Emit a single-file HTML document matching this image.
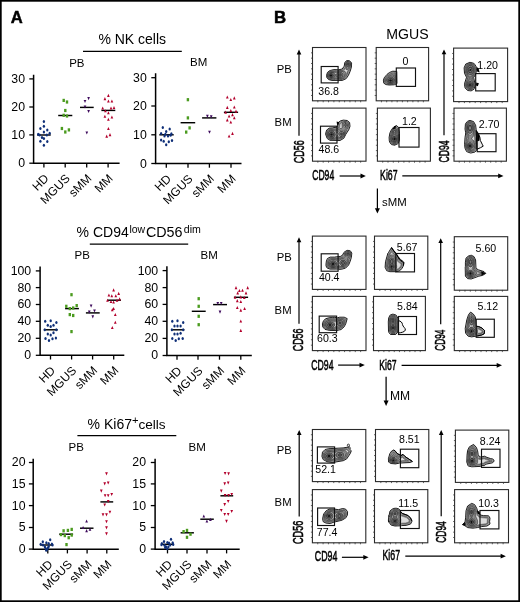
<!DOCTYPE html>
<html><head><meta charset="utf-8"><style>
html,body{margin:0;padding:0;background:#fff;width:520px;height:602px;overflow:hidden}
svg{display:block;will-change:transform}
text{font-family:"Liberation Sans", sans-serif}
</style></head><body>
<svg width="520" height="602" viewBox="0 0 520 602" font-family='"Liberation Sans", sans-serif'>
<rect x="0" y="0" width="520" height="602" fill="#fff"/>
<rect x="0.85" y="0.85" width="518.3" height="600.3" fill="none" stroke="#000" stroke-width="1.7"/>
<text x="10.7" y="23" font-size="16.6" text-anchor="start" font-weight="bold" fill="#000" stroke="#000" stroke-width="0.45">A</text>
<text x="274" y="22.5" font-size="16.8" text-anchor="start" font-weight="bold" fill="#000" stroke="#000" stroke-width="0.5">B</text>
<text x="98.4" y="43.7" font-size="14" text-anchor="start" font-weight="normal" fill="#000" >% NK cells</text>
<line x1="83" y1="51.4" x2="181.8" y2="51.4" stroke="#000" stroke-width="1.2" />
<text x="76.6" y="236.8" font-size="14" text-anchor="start" font-weight="normal" fill="#000" >% CD94<tspan font-size="10.5" dx="0.7" dy="-4.0">low</tspan><tspan dx="0.7" dy="4.0" font-size="14.3">CD56</tspan><tspan font-size="10.6" dx="1.4" dy="-4.0">dim</tspan></text>
<line x1="89.8" y1="244.1" x2="188.2" y2="244.1" stroke="#000" stroke-width="1.2" />
<text x="87.6" y="428.7" font-size="14" text-anchor="start" font-weight="normal" fill="#000" >% Ki67<tspan font-size="11.2" dx="0" dy="-4.6">+</tspan><tspan dx="-0.1" dy="4.6" font-size="13.6">cells</tspan></text>
<line x1="77.4" y1="435.7" x2="176.3" y2="435.7" stroke="#000" stroke-width="1.2" />
<text x="69.2" y="67.4" font-size="11.5" text-anchor="start" font-weight="normal" fill="#000" >PB</text>
<text x="190" y="66.2" font-size="11.5" text-anchor="start" font-weight="normal" fill="#000" >BM</text>
<text x="74.6" y="259.2" font-size="11.5" text-anchor="start" font-weight="normal" fill="#000" >PB</text>
<text x="200.6" y="258.6" font-size="11.5" text-anchor="start" font-weight="normal" fill="#000" >BM</text>
<text x="68.6" y="451.3" font-size="11.5" text-anchor="start" font-weight="normal" fill="#000" >PB</text>
<text x="188.6" y="451.3" font-size="11.5" text-anchor="start" font-weight="normal" fill="#000" >BM</text>
<path d="M33.6 74.8V163.2H119.6" fill="none" stroke="#000" stroke-width="1.5"/>
<line x1="29.3" y1="163.2" x2="33.6" y2="163.2" stroke="#000" stroke-width="1.3" />
<text x="25" y="167.1" font-size="12.3" text-anchor="end" font-weight="normal" fill="#000" >0</text>
<line x1="29.3" y1="134.9" x2="33.6" y2="134.9" stroke="#000" stroke-width="1.3" />
<text x="25" y="138.8" font-size="12.3" text-anchor="end" font-weight="normal" fill="#000" >10</text>
<line x1="29.3" y1="107" x2="33.6" y2="107" stroke="#000" stroke-width="1.3" />
<text x="25" y="110.9" font-size="12.3" text-anchor="end" font-weight="normal" fill="#000" >20</text>
<line x1="29.3" y1="78.9" x2="33.6" y2="78.9" stroke="#000" stroke-width="1.3" />
<text x="25" y="82.8" font-size="12.3" text-anchor="end" font-weight="normal" fill="#000" >30</text>
<line x1="43.9" y1="163.2" x2="43.9" y2="167.4" stroke="#000" stroke-width="1.3" />
<line x1="65.2" y1="163.2" x2="65.2" y2="167.4" stroke="#000" stroke-width="1.3" />
<line x1="86.7" y1="163.2" x2="86.7" y2="167.4" stroke="#000" stroke-width="1.3" />
<line x1="108.1" y1="163.2" x2="108.1" y2="167.4" stroke="#000" stroke-width="1.3" />
<text transform="translate(49.4,179.2) rotate(-45)" font-size="12" text-anchor="end">HD</text>
<text transform="translate(70.7,179.2) rotate(-45)" font-size="12" text-anchor="end">MGUS</text>
<text transform="translate(92.2,179.2) rotate(-45)" font-size="12" text-anchor="end">sMM</text>
<text transform="translate(113.6,179.2) rotate(-45)" font-size="12" text-anchor="end">MM</text>
<line x1="37.2" y1="135" x2="50.7" y2="135" stroke="#000" stroke-width="1.45" />
<line x1="58.2" y1="115.5" x2="72.3" y2="115.5" stroke="#000" stroke-width="1.45" />
<line x1="80" y1="107.4" x2="93.7" y2="107.4" stroke="#000" stroke-width="1.45" />
<line x1="101.4" y1="110.4" x2="115.3" y2="110.4" stroke="#000" stroke-width="1.45" />
<ellipse cx="43.9" cy="121.5" rx="1.15" ry="1.5" fill="#0f2f78"/>
<ellipse cx="43.9" cy="126.3" rx="1.15" ry="1.5" fill="#0f2f78"/>
<ellipse cx="40.4" cy="128.5" rx="1.15" ry="1.5" fill="#0f2f78"/>
<ellipse cx="47.3" cy="129.9" rx="1.15" ry="1.5" fill="#0f2f78"/>
<ellipse cx="43.9" cy="132.1" rx="1.15" ry="1.5" fill="#0f2f78"/>
<ellipse cx="38.2" cy="134.2" rx="1.15" ry="1.5" fill="#0f2f78"/>
<ellipse cx="49.7" cy="133.3" rx="1.15" ry="1.5" fill="#0f2f78"/>
<ellipse cx="39.6" cy="135" rx="1.15" ry="1.5" fill="#0f2f78"/>
<ellipse cx="46.8" cy="135" rx="1.15" ry="1.5" fill="#0f2f78"/>
<ellipse cx="42" cy="137.6" rx="1.15" ry="1.5" fill="#0f2f78"/>
<ellipse cx="43.9" cy="138.6" rx="1.15" ry="1.5" fill="#0f2f78"/>
<ellipse cx="40.4" cy="141.2" rx="1.15" ry="1.5" fill="#0f2f78"/>
<ellipse cx="47.3" cy="141.4" rx="1.15" ry="1.5" fill="#0f2f78"/>
<ellipse cx="43.9" cy="145.3" rx="1.15" ry="1.5" fill="#0f2f78"/>
<rect x="62.5" y="98.8" width="2.4" height="3.2" fill="#4b9b1f"/>
<rect x="65.8" y="100.4" width="2.4" height="3.2" fill="#4b9b1f"/>
<rect x="64.1" y="108.9" width="2.4" height="3.2" fill="#4b9b1f"/>
<rect x="62.5" y="113.7" width="2.4" height="3.2" fill="#4b9b1f"/>
<rect x="65.8" y="114.4" width="2.4" height="3.2" fill="#4b9b1f"/>
<rect x="60.7" y="126.9" width="2.4" height="3.2" fill="#4b9b1f"/>
<rect x="64.1" y="130.4" width="2.4" height="3.2" fill="#4b9b1f"/>
<rect x="67.7" y="128.3" width="2.4" height="3.2" fill="#4b9b1f"/>
<path d="M88.6 100.2L89.95 97.1L87.25 97.1Z" fill="#3e0b5c"/>
<path d="M85 103L86.35 99.9L83.65 99.9Z" fill="#3e0b5c"/>
<path d="M85 108.6L86.35 105.5L83.65 105.5Z" fill="#3e0b5c"/>
<path d="M88.6 113.1L89.95 110L87.25 110Z" fill="#3e0b5c"/>
<path d="M86.8 134.5L88.15 131.4L85.45 131.4Z" fill="#3e0b5c"/>
<path d="M108.4 93.8L109.75 96.9L107.05 96.9Z" fill="#b3002c"/>
<path d="M104.9 97.1L106.25 100.2L103.55 100.2Z" fill="#b3002c"/>
<path d="M108.4 99.5L109.75 102.6L107.05 102.6Z" fill="#b3002c"/>
<path d="M111.9 99.5L113.25 102.6L110.55 102.6Z" fill="#b3002c"/>
<path d="M102.7 106.5L104.05 109.6L101.35 109.6Z" fill="#b3002c"/>
<path d="M111 106.5L112.35 109.6L109.65 109.6Z" fill="#b3002c"/>
<path d="M114 106L115.35 109.1L112.65 109.1Z" fill="#b3002c"/>
<path d="M105.4 109.2L106.75 112.3L104.05 112.3Z" fill="#b3002c"/>
<path d="M108.4 111.2L109.75 114.3L107.05 114.3Z" fill="#b3002c"/>
<path d="M104.9 114.7L106.25 117.8L103.55 117.8Z" fill="#b3002c"/>
<path d="M111.9 115.4L113.25 118.5L110.55 118.5Z" fill="#b3002c"/>
<path d="M108.4 117.7L109.75 120.8L107.05 120.8Z" fill="#b3002c"/>
<path d="M108.4 126.9L109.75 130L107.05 130Z" fill="#b3002c"/>
<path d="M110 133.1L111.35 136.2L108.65 136.2Z" fill="#b3002c"/>
<path d="M106.7 134.6L108.05 137.7L105.35 137.7Z" fill="#b3002c"/>
<path d="M155.6 73.3V163.5H241.5" fill="none" stroke="#000" stroke-width="1.5"/>
<line x1="151.3" y1="163.5" x2="155.6" y2="163.5" stroke="#000" stroke-width="1.3" />
<text x="146.8" y="167.9" font-size="12.3" text-anchor="end" font-weight="normal" fill="#000" >0</text>
<line x1="151.3" y1="134.8" x2="155.6" y2="134.8" stroke="#000" stroke-width="1.3" />
<text x="146.8" y="139.2" font-size="12.3" text-anchor="end" font-weight="normal" fill="#000" >10</text>
<line x1="151.3" y1="106" x2="155.6" y2="106" stroke="#000" stroke-width="1.3" />
<text x="146.8" y="110.4" font-size="12.3" text-anchor="end" font-weight="normal" fill="#000" >20</text>
<line x1="151.3" y1="77.7" x2="155.6" y2="77.7" stroke="#000" stroke-width="1.3" />
<text x="146.8" y="82.1" font-size="12.3" text-anchor="end" font-weight="normal" fill="#000" >30</text>
<line x1="166.3" y1="163.5" x2="166.3" y2="167.7" stroke="#000" stroke-width="1.3" />
<line x1="188" y1="163.5" x2="188" y2="167.7" stroke="#000" stroke-width="1.3" />
<line x1="209.4" y1="163.5" x2="209.4" y2="167.7" stroke="#000" stroke-width="1.3" />
<line x1="231" y1="163.5" x2="231" y2="167.7" stroke="#000" stroke-width="1.3" />
<text transform="translate(171.8,179.5) rotate(-45)" font-size="12" text-anchor="end">HD</text>
<text transform="translate(193.5,179.5) rotate(-45)" font-size="12" text-anchor="end">MGUS</text>
<text transform="translate(214.9,179.5) rotate(-45)" font-size="12" text-anchor="end">sMM</text>
<text transform="translate(236.5,179.5) rotate(-45)" font-size="12" text-anchor="end">MM</text>
<line x1="159.3" y1="134.8" x2="173.7" y2="134.8" stroke="#000" stroke-width="1.45" />
<line x1="180.6" y1="122.7" x2="195.2" y2="122.7" stroke="#000" stroke-width="1.45" />
<line x1="202.1" y1="117.9" x2="216.4" y2="117.9" stroke="#000" stroke-width="1.45" />
<line x1="223.9" y1="112.3" x2="238.1" y2="112.3" stroke="#000" stroke-width="1.45" />
<ellipse cx="162.8" cy="127.4" rx="1.15" ry="1.5" fill="#0f2f78"/>
<ellipse cx="169.7" cy="129.1" rx="1.15" ry="1.5" fill="#0f2f78"/>
<ellipse cx="166.2" cy="131.4" rx="1.15" ry="1.5" fill="#0f2f78"/>
<ellipse cx="161.1" cy="133.5" rx="1.15" ry="1.5" fill="#0f2f78"/>
<ellipse cx="171.4" cy="133.8" rx="1.15" ry="1.5" fill="#0f2f78"/>
<ellipse cx="164.5" cy="136.1" rx="1.15" ry="1.5" fill="#0f2f78"/>
<ellipse cx="168" cy="136.1" rx="1.15" ry="1.5" fill="#0f2f78"/>
<ellipse cx="161.1" cy="140" rx="1.15" ry="1.5" fill="#0f2f78"/>
<ellipse cx="163.7" cy="141.2" rx="1.15" ry="1.5" fill="#0f2f78"/>
<ellipse cx="168.8" cy="141.8" rx="1.15" ry="1.5" fill="#0f2f78"/>
<ellipse cx="172" cy="140.4" rx="1.15" ry="1.5" fill="#0f2f78"/>
<ellipse cx="166.2" cy="144.7" rx="1.15" ry="1.5" fill="#0f2f78"/>
<ellipse cx="165.4" cy="134.3" rx="1.15" ry="1.5" fill="#0f2f78"/>
<ellipse cx="170.6" cy="135.2" rx="1.15" ry="1.5" fill="#0f2f78"/>
<rect x="186.7" y="98.1" width="2.4" height="3.2" fill="#4b9b1f"/>
<rect x="186.7" y="116.3" width="2.4" height="3.2" fill="#4b9b1f"/>
<rect x="188.4" y="126.3" width="2.4" height="3.2" fill="#4b9b1f"/>
<rect x="185" y="130.5" width="2.4" height="3.2" fill="#4b9b1f"/>
<path d="M207.4 117.9L208.75 114.8L206.05 114.8Z" fill="#3e0b5c"/>
<path d="M211.2 118.4L212.55 115.3L209.85 115.3Z" fill="#3e0b5c"/>
<path d="M209.5 133.8L210.85 130.7L208.15 130.7Z" fill="#3e0b5c"/>
<path d="M227.3 95.4L228.65 98.5L225.95 98.5Z" fill="#b3002c"/>
<path d="M230.8 98L232.15 101.1L229.45 101.1Z" fill="#b3002c"/>
<path d="M234.3 96.3L235.65 99.4L232.95 99.4Z" fill="#b3002c"/>
<path d="M227.3 105.8L228.65 108.9L225.95 108.9Z" fill="#b3002c"/>
<path d="M234.3 105.5L235.65 108.6L232.95 108.6Z" fill="#b3002c"/>
<path d="M225.6 110.6L226.95 113.7L224.25 113.7Z" fill="#b3002c"/>
<path d="M230.8 108.9L232.15 112L229.45 112Z" fill="#b3002c"/>
<path d="M236 109.6L237.35 112.7L234.65 112.7Z" fill="#b3002c"/>
<path d="M229.1 114.5L230.45 117.6L227.75 117.6Z" fill="#b3002c"/>
<path d="M232.5 113.1L233.85 116.2L231.15 116.2Z" fill="#b3002c"/>
<path d="M227.3 118.3L228.65 121.4L225.95 121.4Z" fill="#b3002c"/>
<path d="M234.3 116.2L235.65 119.3L232.95 119.3Z" fill="#b3002c"/>
<path d="M230.8 120.5L232.15 123.6L229.45 123.6Z" fill="#b3002c"/>
<path d="M229.1 134.4L230.45 137.5L227.75 137.5Z" fill="#b3002c"/>
<path d="M232.5 131.8L233.85 134.9L231.15 134.9Z" fill="#b3002c"/>
<path d="M40.1 266.4V355.3H124.3" fill="none" stroke="#000" stroke-width="1.5"/>
<line x1="35.8" y1="355.3" x2="40.1" y2="355.3" stroke="#000" stroke-width="1.3" />
<text x="31.2" y="359.2" font-size="12.3" text-anchor="end" font-weight="normal" fill="#000" >0</text>
<line x1="35.8" y1="338.3" x2="40.1" y2="338.3" stroke="#000" stroke-width="1.3" />
<text x="31.2" y="342.2" font-size="12.3" text-anchor="end" font-weight="normal" fill="#000" >20</text>
<line x1="35.8" y1="321.3" x2="40.1" y2="321.3" stroke="#000" stroke-width="1.3" />
<text x="31.2" y="325.2" font-size="12.3" text-anchor="end" font-weight="normal" fill="#000" >40</text>
<line x1="35.8" y1="304.5" x2="40.1" y2="304.5" stroke="#000" stroke-width="1.3" />
<text x="31.2" y="308.4" font-size="12.3" text-anchor="end" font-weight="normal" fill="#000" >60</text>
<line x1="35.8" y1="287.6" x2="40.1" y2="287.6" stroke="#000" stroke-width="1.3" />
<text x="31.2" y="291.5" font-size="12.3" text-anchor="end" font-weight="normal" fill="#000" >80</text>
<line x1="35.8" y1="270.9" x2="40.1" y2="270.9" stroke="#000" stroke-width="1.3" />
<text x="31.2" y="274.8" font-size="12.3" text-anchor="end" font-weight="normal" fill="#000" >100</text>
<line x1="50.5" y1="355.3" x2="50.5" y2="359.5" stroke="#000" stroke-width="1.3" />
<line x1="71.6" y1="355.3" x2="71.6" y2="359.5" stroke="#000" stroke-width="1.3" />
<line x1="92.6" y1="355.3" x2="92.6" y2="359.5" stroke="#000" stroke-width="1.3" />
<line x1="113.7" y1="355.3" x2="113.7" y2="359.5" stroke="#000" stroke-width="1.3" />
<text transform="translate(56,371.3) rotate(-45)" font-size="12" text-anchor="end">HD</text>
<text transform="translate(77.1,371.3) rotate(-45)" font-size="12" text-anchor="end">MGUS</text>
<text transform="translate(98.1,371.3) rotate(-45)" font-size="12" text-anchor="end">sMM</text>
<text transform="translate(119.2,371.3) rotate(-45)" font-size="12" text-anchor="end">MM</text>
<line x1="43.8" y1="329.8" x2="57.7" y2="329.8" stroke="#000" stroke-width="1.45" />
<line x1="65.1" y1="308.6" x2="78.9" y2="308.6" stroke="#000" stroke-width="1.45" />
<line x1="85.9" y1="312.9" x2="99.7" y2="312.9" stroke="#000" stroke-width="1.45" />
<line x1="107.2" y1="300.2" x2="121" y2="300.2" stroke="#000" stroke-width="1.45" />
<ellipse cx="45.2" cy="321.2" rx="1.15" ry="1.5" fill="#0f2f78"/>
<ellipse cx="50.7" cy="320.7" rx="1.15" ry="1.5" fill="#0f2f78"/>
<ellipse cx="56.4" cy="322.4" rx="1.15" ry="1.5" fill="#0f2f78"/>
<ellipse cx="47.8" cy="325.3" rx="1.15" ry="1.5" fill="#0f2f78"/>
<ellipse cx="50.7" cy="326.4" rx="1.15" ry="1.5" fill="#0f2f78"/>
<ellipse cx="53.5" cy="325.3" rx="1.15" ry="1.5" fill="#0f2f78"/>
<ellipse cx="44.8" cy="329.8" rx="1.15" ry="1.5" fill="#0f2f78"/>
<ellipse cx="56.4" cy="329.8" rx="1.15" ry="1.5" fill="#0f2f78"/>
<ellipse cx="47.8" cy="334" rx="1.15" ry="1.5" fill="#0f2f78"/>
<ellipse cx="50.7" cy="335" rx="1.15" ry="1.5" fill="#0f2f78"/>
<ellipse cx="53.5" cy="332.8" rx="1.15" ry="1.5" fill="#0f2f78"/>
<ellipse cx="45.5" cy="338.5" rx="1.15" ry="1.5" fill="#0f2f78"/>
<ellipse cx="49" cy="340.6" rx="1.15" ry="1.5" fill="#0f2f78"/>
<ellipse cx="52.5" cy="338.8" rx="1.15" ry="1.5" fill="#0f2f78"/>
<ellipse cx="55.9" cy="338" rx="1.15" ry="1.5" fill="#0f2f78"/>
<rect x="70.3" y="293.1" width="2.4" height="3.2" fill="#4b9b1f"/>
<rect x="65.1" y="304.7" width="2.4" height="3.2" fill="#4b9b1f"/>
<rect x="68.6" y="307" width="2.4" height="3.2" fill="#4b9b1f"/>
<rect x="72" y="306.4" width="2.4" height="3.2" fill="#4b9b1f"/>
<rect x="75.5" y="304" width="2.4" height="3.2" fill="#4b9b1f"/>
<rect x="68.6" y="313" width="2.4" height="3.2" fill="#4b9b1f"/>
<rect x="72" y="313.9" width="2.4" height="3.2" fill="#4b9b1f"/>
<rect x="70.3" y="330" width="2.4" height="3.2" fill="#4b9b1f"/>
<path d="M91.1 307.7L92.45 304.6L89.75 304.6Z" fill="#3e0b5c"/>
<path d="M89.3 313.7L90.65 310.6L87.95 310.6Z" fill="#3e0b5c"/>
<path d="M94.5 312.5L95.85 309.4L93.15 309.4Z" fill="#3e0b5c"/>
<path d="M92.8 318.4L94.15 315.3L91.45 315.3Z" fill="#3e0b5c"/>
<path d="M113.6 288.3L114.95 291.4L112.25 291.4Z" fill="#b3002c"/>
<path d="M108.9 293.5L110.25 296.6L107.55 296.6Z" fill="#b3002c"/>
<path d="M111.8 294.2L113.15 297.3L110.45 297.3Z" fill="#b3002c"/>
<path d="M115.8 294.2L117.15 297.3L114.45 297.3Z" fill="#b3002c"/>
<path d="M118.7 291.8L120.05 294.9L117.35 294.9Z" fill="#b3002c"/>
<path d="M107.5 298.7L108.85 301.8L106.15 301.8Z" fill="#b3002c"/>
<path d="M111 299.9L112.35 303L109.65 303Z" fill="#b3002c"/>
<path d="M113.6 300.5L114.95 303.6L112.25 303.6Z" fill="#b3002c"/>
<path d="M117 298.7L118.35 301.8L115.65 301.8Z" fill="#b3002c"/>
<path d="M119.6 297.3L120.95 300.4L118.25 300.4Z" fill="#b3002c"/>
<path d="M112.3 308.1L113.65 311.2L110.95 311.2Z" fill="#b3002c"/>
<path d="M113.6 306.9L114.95 310L112.25 310Z" fill="#b3002c"/>
<path d="M115.3 312.9L116.65 316L113.95 316Z" fill="#b3002c"/>
<path d="M115.3 320.7L116.65 323.8L113.95 323.8Z" fill="#b3002c"/>
<path d="M112.3 325.9L113.65 329L110.95 329Z" fill="#b3002c"/>
<path d="M166.9 266.3V355.5H251.8" fill="none" stroke="#000" stroke-width="1.5"/>
<line x1="162.6" y1="355.5" x2="166.9" y2="355.5" stroke="#000" stroke-width="1.3" />
<text x="158.2" y="359.4" font-size="12.3" text-anchor="end" font-weight="normal" fill="#000" >0</text>
<line x1="162.6" y1="338.4" x2="166.9" y2="338.4" stroke="#000" stroke-width="1.3" />
<text x="158.2" y="342.3" font-size="12.3" text-anchor="end" font-weight="normal" fill="#000" >20</text>
<line x1="162.6" y1="321.3" x2="166.9" y2="321.3" stroke="#000" stroke-width="1.3" />
<text x="158.2" y="325.2" font-size="12.3" text-anchor="end" font-weight="normal" fill="#000" >40</text>
<line x1="162.6" y1="304.4" x2="166.9" y2="304.4" stroke="#000" stroke-width="1.3" />
<text x="158.2" y="308.3" font-size="12.3" text-anchor="end" font-weight="normal" fill="#000" >60</text>
<line x1="162.6" y1="287.6" x2="166.9" y2="287.6" stroke="#000" stroke-width="1.3" />
<text x="158.2" y="291.5" font-size="12.3" text-anchor="end" font-weight="normal" fill="#000" >80</text>
<line x1="162.6" y1="270.6" x2="166.9" y2="270.6" stroke="#000" stroke-width="1.3" />
<text x="158.2" y="274.5" font-size="12.3" text-anchor="end" font-weight="normal" fill="#000" >100</text>
<line x1="177" y1="355.5" x2="177" y2="359.7" stroke="#000" stroke-width="1.3" />
<line x1="198" y1="355.5" x2="198" y2="359.7" stroke="#000" stroke-width="1.3" />
<line x1="219.5" y1="355.5" x2="219.5" y2="359.7" stroke="#000" stroke-width="1.3" />
<line x1="240.8" y1="355.5" x2="240.8" y2="359.7" stroke="#000" stroke-width="1.3" />
<text transform="translate(182.5,371.5) rotate(-45)" font-size="12" text-anchor="end">HD</text>
<text transform="translate(203.5,371.5) rotate(-45)" font-size="12" text-anchor="end">MGUS</text>
<text transform="translate(225,371.5) rotate(-45)" font-size="12" text-anchor="end">sMM</text>
<text transform="translate(246.3,371.5) rotate(-45)" font-size="12" text-anchor="end">MM</text>
<line x1="171.1" y1="329.8" x2="184.4" y2="329.8" stroke="#000" stroke-width="1.45" />
<line x1="191.8" y1="311.3" x2="205.7" y2="311.3" stroke="#000" stroke-width="1.45" />
<line x1="213.1" y1="304.6" x2="227" y2="304.6" stroke="#000" stroke-width="1.45" />
<line x1="233.9" y1="297.3" x2="248.1" y2="297.3" stroke="#000" stroke-width="1.45" />
<ellipse cx="172.3" cy="321.2" rx="1.15" ry="1.5" fill="#0f2f78"/>
<ellipse cx="177.5" cy="320.7" rx="1.15" ry="1.5" fill="#0f2f78"/>
<ellipse cx="183.2" cy="322.4" rx="1.15" ry="1.5" fill="#0f2f78"/>
<ellipse cx="174.5" cy="325.9" rx="1.15" ry="1.5" fill="#0f2f78"/>
<ellipse cx="177.5" cy="325.9" rx="1.15" ry="1.5" fill="#0f2f78"/>
<ellipse cx="180.6" cy="325.9" rx="1.15" ry="1.5" fill="#0f2f78"/>
<ellipse cx="171.9" cy="329.8" rx="1.15" ry="1.5" fill="#0f2f78"/>
<ellipse cx="183.2" cy="329.8" rx="1.15" ry="1.5" fill="#0f2f78"/>
<ellipse cx="174.5" cy="334" rx="1.15" ry="1.5" fill="#0f2f78"/>
<ellipse cx="177.5" cy="334" rx="1.15" ry="1.5" fill="#0f2f78"/>
<ellipse cx="180.6" cy="333.3" rx="1.15" ry="1.5" fill="#0f2f78"/>
<ellipse cx="172.3" cy="338.5" rx="1.15" ry="1.5" fill="#0f2f78"/>
<ellipse cx="175.7" cy="340.6" rx="1.15" ry="1.5" fill="#0f2f78"/>
<ellipse cx="178.8" cy="338.8" rx="1.15" ry="1.5" fill="#0f2f78"/>
<ellipse cx="182.7" cy="338.5" rx="1.15" ry="1.5" fill="#0f2f78"/>
<rect x="197.5" y="297.1" width="2.4" height="3.2" fill="#4b9b1f"/>
<rect x="197.5" y="304.7" width="2.4" height="3.2" fill="#4b9b1f"/>
<rect x="197.5" y="314.7" width="2.4" height="3.2" fill="#4b9b1f"/>
<rect x="197.5" y="323.1" width="2.4" height="3.2" fill="#4b9b1f"/>
<path d="M217.8 305.1L219.15 302L216.45 302Z" fill="#3e0b5c"/>
<path d="M221.2 305.1L222.55 302L219.85 302Z" fill="#3e0b5c"/>
<path d="M220 313.7L221.35 310.6L218.65 310.6Z" fill="#3e0b5c"/>
<path d="M236 286.1L237.35 289.2L234.65 289.2Z" fill="#b3002c"/>
<path d="M239.4 289L240.75 292.1L238.05 292.1Z" fill="#b3002c"/>
<path d="M242.5 288.7L243.85 291.8L241.15 291.8Z" fill="#b3002c"/>
<path d="M247.7 286.1L249.05 289.2L246.35 289.2Z" fill="#b3002c"/>
<path d="M237.7 291.3L239.05 294.4L236.35 294.4Z" fill="#b3002c"/>
<path d="M246 291.3L247.35 294.4L244.65 294.4Z" fill="#b3002c"/>
<path d="M235.1 295.6L236.45 298.7L233.75 298.7Z" fill="#b3002c"/>
<path d="M240.8 295.3L242.15 298.4L239.45 298.4Z" fill="#b3002c"/>
<path d="M244.3 296L245.65 299.1L242.95 299.1Z" fill="#b3002c"/>
<path d="M237.3 299.1L238.65 302.2L235.95 302.2Z" fill="#b3002c"/>
<path d="M240.8 299.9L242.15 303L239.45 303Z" fill="#b3002c"/>
<path d="M237.3 306L238.65 309.1L235.95 309.1Z" fill="#b3002c"/>
<path d="M240.8 308.6L242.15 311.7L239.45 311.7Z" fill="#b3002c"/>
<path d="M244.6 306.9L245.95 310L243.25 310Z" fill="#b3002c"/>
<path d="M240.8 319.5L242.15 322.6L239.45 322.6Z" fill="#b3002c"/>
<path d="M240.8 328.8L242.15 331.9L239.45 331.9Z" fill="#b3002c"/>
<path d="M33.2 458.8V549.2H118.8" fill="none" stroke="#000" stroke-width="1.5"/>
<line x1="28.9" y1="549.1" x2="33.2" y2="549.1" stroke="#000" stroke-width="1.3" />
<text x="25.5" y="553" font-size="12.3" text-anchor="end" font-weight="normal" fill="#000" >0</text>
<line x1="28.9" y1="527.5" x2="33.2" y2="527.5" stroke="#000" stroke-width="1.3" />
<text x="25.5" y="531.4" font-size="12.3" text-anchor="end" font-weight="normal" fill="#000" >5</text>
<line x1="28.9" y1="505.6" x2="33.2" y2="505.6" stroke="#000" stroke-width="1.3" />
<text x="25.5" y="509.5" font-size="12.3" text-anchor="end" font-weight="normal" fill="#000" >10</text>
<line x1="28.9" y1="483.9" x2="33.2" y2="483.9" stroke="#000" stroke-width="1.3" />
<text x="25.5" y="487.8" font-size="12.3" text-anchor="end" font-weight="normal" fill="#000" >15</text>
<line x1="28.9" y1="462.5" x2="33.2" y2="462.5" stroke="#000" stroke-width="1.3" />
<text x="25.5" y="466.4" font-size="12.3" text-anchor="end" font-weight="normal" fill="#000" >20</text>
<line x1="47.8" y1="549.2" x2="47.8" y2="553.4" stroke="#000" stroke-width="1.3" />
<line x1="67.4" y1="549.2" x2="67.4" y2="553.4" stroke="#000" stroke-width="1.3" />
<line x1="87.1" y1="549.2" x2="87.1" y2="553.4" stroke="#000" stroke-width="1.3" />
<line x1="106.8" y1="549.2" x2="106.8" y2="553.4" stroke="#000" stroke-width="1.3" />
<text transform="translate(53.3,565.2) rotate(-45)" font-size="12" text-anchor="end">HD</text>
<text transform="translate(72.9,565.2) rotate(-45)" font-size="12" text-anchor="end">MGUS</text>
<text transform="translate(92.6,565.2) rotate(-45)" font-size="12" text-anchor="end">sMM</text>
<text transform="translate(112.3,565.2) rotate(-45)" font-size="12" text-anchor="end">MM</text>
<line x1="40.2" y1="545" x2="53.2" y2="545" stroke="#000" stroke-width="1.45" />
<line x1="59.2" y1="534.2" x2="73.1" y2="534.2" stroke="#000" stroke-width="1.45" />
<line x1="80" y1="528.2" x2="93.5" y2="528.2" stroke="#000" stroke-width="1.45" />
<line x1="100.4" y1="501.9" x2="113.2" y2="501.9" stroke="#000" stroke-width="1.45" />
<ellipse cx="42.8" cy="541.7" rx="1.15" ry="1.5" fill="#0f2f78"/>
<ellipse cx="50.2" cy="539.8" rx="1.15" ry="1.5" fill="#0f2f78"/>
<ellipse cx="40.7" cy="544.3" rx="1.15" ry="1.5" fill="#0f2f78"/>
<ellipse cx="46.4" cy="542.8" rx="1.15" ry="1.5" fill="#0f2f78"/>
<ellipse cx="48.7" cy="543.4" rx="1.15" ry="1.5" fill="#0f2f78"/>
<ellipse cx="51.9" cy="543.9" rx="1.15" ry="1.5" fill="#0f2f78"/>
<ellipse cx="52.5" cy="544.9" rx="1.15" ry="1.5" fill="#0f2f78"/>
<ellipse cx="43" cy="545.1" rx="1.15" ry="1.5" fill="#0f2f78"/>
<ellipse cx="44.9" cy="546.8" rx="1.15" ry="1.5" fill="#0f2f78"/>
<ellipse cx="48.7" cy="546.4" rx="1.15" ry="1.5" fill="#0f2f78"/>
<ellipse cx="45.7" cy="548.5" rx="1.15" ry="1.5" fill="#0f2f78"/>
<ellipse cx="47" cy="549.4" rx="1.15" ry="1.5" fill="#0f2f78"/>
<ellipse cx="46.2" cy="550.2" rx="1.15" ry="1.5" fill="#0f2f78"/>
<ellipse cx="47.9" cy="548.1" rx="1.15" ry="1.5" fill="#0f2f78"/>
<rect x="62.4" y="529.2" width="2.4" height="3.2" fill="#4b9b1f"/>
<rect x="66.7" y="528.8" width="2.4" height="3.2" fill="#4b9b1f"/>
<rect x="70.5" y="527.8" width="2.4" height="3.2" fill="#4b9b1f"/>
<rect x="59.8" y="533" width="2.4" height="3.2" fill="#4b9b1f"/>
<rect x="63.6" y="534" width="2.4" height="3.2" fill="#4b9b1f"/>
<rect x="67.5" y="536.1" width="2.4" height="3.2" fill="#4b9b1f"/>
<rect x="70.5" y="533.5" width="2.4" height="3.2" fill="#4b9b1f"/>
<rect x="65.3" y="543" width="2.4" height="3.2" fill="#4b9b1f"/>
<path d="M86.6 519.5L87.95 522.6L85.25 522.6Z" fill="#3e0b5c"/>
<path d="M83.1 526L84.45 529.1L81.75 529.1Z" fill="#3e0b5c"/>
<path d="M86.6 529.1L87.95 532.2L85.25 532.2Z" fill="#3e0b5c"/>
<path d="M90 527.7L91.35 530.8L88.65 530.8Z" fill="#3e0b5c"/>
<path d="M106.5 475.4L107.85 472.3L105.15 472.3Z" fill="#b3002c"/>
<path d="M104.7 485.4L106.05 482.3L103.35 482.3Z" fill="#b3002c"/>
<path d="M108.2 484.5L109.55 481.4L106.85 481.4Z" fill="#b3002c"/>
<path d="M101.3 492.7L102.65 489.6L99.95 489.6Z" fill="#b3002c"/>
<path d="M105.1 497.3L106.45 494.2L103.75 494.2Z" fill="#b3002c"/>
<path d="M108.2 497.3L109.55 494.2L106.85 494.2Z" fill="#b3002c"/>
<path d="M111.7 496.1L113.05 493L110.35 493Z" fill="#b3002c"/>
<path d="M108.2 503L109.55 499.9L106.85 499.9Z" fill="#b3002c"/>
<path d="M104.7 506.5L106.05 503.4L103.35 503.4Z" fill="#b3002c"/>
<path d="M103 516.4L104.35 513.3L101.65 513.3Z" fill="#b3002c"/>
<path d="M106.5 516.4L107.85 513.3L105.15 513.3Z" fill="#b3002c"/>
<path d="M109.9 513.8L111.25 510.7L108.55 510.7Z" fill="#b3002c"/>
<path d="M106.5 523.3L107.85 520.2L105.15 520.2Z" fill="#b3002c"/>
<path d="M106.5 529.4L107.85 526.3L105.15 526.3Z" fill="#b3002c"/>
<path d="M106.5 535.4L107.85 532.3L105.15 532.3Z" fill="#b3002c"/>
<path d="M155.1 458.8V549.2H239.7" fill="none" stroke="#000" stroke-width="1.5"/>
<line x1="150.8" y1="549.1" x2="155.1" y2="549.1" stroke="#000" stroke-width="1.3" />
<text x="146" y="553" font-size="12.3" text-anchor="end" font-weight="normal" fill="#000" >0</text>
<line x1="150.8" y1="527.5" x2="155.1" y2="527.5" stroke="#000" stroke-width="1.3" />
<text x="146" y="531.4" font-size="12.3" text-anchor="end" font-weight="normal" fill="#000" >5</text>
<line x1="150.8" y1="505.6" x2="155.1" y2="505.6" stroke="#000" stroke-width="1.3" />
<text x="146" y="509.5" font-size="12.3" text-anchor="end" font-weight="normal" fill="#000" >10</text>
<line x1="150.8" y1="483.9" x2="155.1" y2="483.9" stroke="#000" stroke-width="1.3" />
<text x="146" y="487.8" font-size="12.3" text-anchor="end" font-weight="normal" fill="#000" >15</text>
<line x1="150.8" y1="462.5" x2="155.1" y2="462.5" stroke="#000" stroke-width="1.3" />
<text x="146" y="466.4" font-size="12.3" text-anchor="end" font-weight="normal" fill="#000" >20</text>
<line x1="167.5" y1="549.2" x2="167.5" y2="553.4" stroke="#000" stroke-width="1.3" />
<line x1="187" y1="549.2" x2="187" y2="553.4" stroke="#000" stroke-width="1.3" />
<line x1="207" y1="549.2" x2="207" y2="553.4" stroke="#000" stroke-width="1.3" />
<line x1="226.6" y1="549.2" x2="226.6" y2="553.4" stroke="#000" stroke-width="1.3" />
<text transform="translate(173,565.2) rotate(-45)" font-size="12" text-anchor="end">HD</text>
<text transform="translate(192.5,565.2) rotate(-45)" font-size="12" text-anchor="end">MGUS</text>
<text transform="translate(212.5,565.2) rotate(-45)" font-size="12" text-anchor="end">sMM</text>
<text transform="translate(232.1,565.2) rotate(-45)" font-size="12" text-anchor="end">MM</text>
<line x1="161.6" y1="544.3" x2="174" y2="544.3" stroke="#000" stroke-width="1.45" />
<line x1="180.6" y1="532.8" x2="193.9" y2="532.8" stroke="#000" stroke-width="1.45" />
<line x1="200.3" y1="519.2" x2="213.8" y2="519.2" stroke="#000" stroke-width="1.45" />
<line x1="220.4" y1="495.8" x2="233.2" y2="495.8" stroke="#000" stroke-width="1.45" />
<ellipse cx="164" cy="541.5" rx="1.15" ry="1.5" fill="#0f2f78"/>
<ellipse cx="171" cy="539.2" rx="1.15" ry="1.5" fill="#0f2f78"/>
<ellipse cx="161.9" cy="543.4" rx="1.15" ry="1.5" fill="#0f2f78"/>
<ellipse cx="167.4" cy="542.6" rx="1.15" ry="1.5" fill="#0f2f78"/>
<ellipse cx="169" cy="543" rx="1.15" ry="1.5" fill="#0f2f78"/>
<ellipse cx="172.7" cy="542.8" rx="1.15" ry="1.5" fill="#0f2f78"/>
<ellipse cx="173.2" cy="544.4" rx="1.15" ry="1.5" fill="#0f2f78"/>
<ellipse cx="161.5" cy="544.8" rx="1.15" ry="1.5" fill="#0f2f78"/>
<ellipse cx="164.5" cy="545.3" rx="1.15" ry="1.5" fill="#0f2f78"/>
<ellipse cx="170.2" cy="545" rx="1.15" ry="1.5" fill="#0f2f78"/>
<ellipse cx="166" cy="546.8" rx="1.15" ry="1.5" fill="#0f2f78"/>
<ellipse cx="168.4" cy="546.8" rx="1.15" ry="1.5" fill="#0f2f78"/>
<ellipse cx="167.3" cy="548.8" rx="1.15" ry="1.5" fill="#0f2f78"/>
<ellipse cx="165.2" cy="547.6" rx="1.15" ry="1.5" fill="#0f2f78"/>
<rect x="182.4" y="530" width="2.4" height="3.2" fill="#4b9b1f"/>
<rect x="185.8" y="528.8" width="2.4" height="3.2" fill="#4b9b1f"/>
<rect x="189.3" y="532.6" width="2.4" height="3.2" fill="#4b9b1f"/>
<rect x="185.8" y="535.7" width="2.4" height="3.2" fill="#4b9b1f"/>
<path d="M203.8 514.4L205.15 517.5L202.45 517.5Z" fill="#3e0b5c"/>
<path d="M206.9 519.5L208.25 522.6L205.55 522.6Z" fill="#3e0b5c"/>
<path d="M210.4 517.8L211.75 520.9L209.05 520.9Z" fill="#3e0b5c"/>
<path d="M225.1 475L226.45 471.9L223.75 471.9Z" fill="#b3002c"/>
<path d="M228.6 475.4L229.95 472.3L227.25 472.3Z" fill="#b3002c"/>
<path d="M224.7 485.4L226.05 482.3L223.35 482.3Z" fill="#b3002c"/>
<path d="M228.2 484.5L229.55 481.4L226.85 481.4Z" fill="#b3002c"/>
<path d="M221.3 492.7L222.65 489.6L219.95 489.6Z" fill="#b3002c"/>
<path d="M225.1 497L226.45 493.9L223.75 493.9Z" fill="#b3002c"/>
<path d="M228.6 497L229.95 493.9L227.25 493.9Z" fill="#b3002c"/>
<path d="M231.7 496.1L233.05 493L230.35 493Z" fill="#b3002c"/>
<path d="M228.2 503L229.55 499.9L226.85 499.9Z" fill="#b3002c"/>
<path d="M224.7 506.2L226.05 503.1L223.35 503.1Z" fill="#b3002c"/>
<path d="M221.3 512L222.65 508.9L219.95 508.9Z" fill="#b3002c"/>
<path d="M231.7 513.1L233.05 510L230.35 510Z" fill="#b3002c"/>
<path d="M224.7 516L226.05 512.9L223.35 512.9Z" fill="#b3002c"/>
<path d="M228.2 516L229.55 512.9L226.85 512.9Z" fill="#b3002c"/>
<path d="M226.5 522.9L227.85 519.8L225.15 519.8Z" fill="#b3002c"/>
<text x="386.3" y="39.4" font-size="13.9" text-anchor="start" font-weight="normal" fill="#000" textLength="42.4" lengthAdjust="spacingAndGlyphs">MGUS</text>
<rect x="312.5" y="47.5" width="53.5" height="53.3" fill="none" stroke="#2a2a2a" stroke-width="1.1"/>
<line x1="311" y1="52.83" x2="312.8" y2="52.83" stroke="#333" stroke-width="0.75"/>
<line x1="317.85" y1="100.5" x2="317.85" y2="102.3" stroke="#333" stroke-width="0.75"/>
<line x1="311" y1="58.16" x2="312.8" y2="58.16" stroke="#333" stroke-width="0.75"/>
<line x1="323.2" y1="100.5" x2="323.2" y2="102.3" stroke="#333" stroke-width="0.75"/>
<line x1="311" y1="63.49" x2="312.8" y2="63.49" stroke="#333" stroke-width="0.75"/>
<line x1="328.55" y1="100.5" x2="328.55" y2="102.3" stroke="#333" stroke-width="0.75"/>
<line x1="311" y1="68.82" x2="312.8" y2="68.82" stroke="#333" stroke-width="0.75"/>
<line x1="333.9" y1="100.5" x2="333.9" y2="102.3" stroke="#333" stroke-width="0.75"/>
<line x1="311" y1="74.15" x2="312.8" y2="74.15" stroke="#333" stroke-width="0.75"/>
<line x1="339.25" y1="100.5" x2="339.25" y2="102.3" stroke="#333" stroke-width="0.75"/>
<line x1="311" y1="79.48" x2="312.8" y2="79.48" stroke="#333" stroke-width="0.75"/>
<line x1="344.6" y1="100.5" x2="344.6" y2="102.3" stroke="#333" stroke-width="0.75"/>
<line x1="311" y1="84.81" x2="312.8" y2="84.81" stroke="#333" stroke-width="0.75"/>
<line x1="349.95" y1="100.5" x2="349.95" y2="102.3" stroke="#333" stroke-width="0.75"/>
<line x1="311" y1="90.14" x2="312.8" y2="90.14" stroke="#333" stroke-width="0.75"/>
<line x1="355.3" y1="100.5" x2="355.3" y2="102.3" stroke="#333" stroke-width="0.75"/>
<line x1="311" y1="95.47" x2="312.8" y2="95.47" stroke="#333" stroke-width="0.75"/>
<line x1="360.65" y1="100.5" x2="360.65" y2="102.3" stroke="#333" stroke-width="0.75"/>
<rect x="312.5" y="108.1" width="53.5" height="53.1" fill="none" stroke="#2a2a2a" stroke-width="1.1"/>
<line x1="311" y1="113.41" x2="312.8" y2="113.41" stroke="#333" stroke-width="0.75"/>
<line x1="317.85" y1="160.9" x2="317.85" y2="162.7" stroke="#333" stroke-width="0.75"/>
<line x1="311" y1="118.72" x2="312.8" y2="118.72" stroke="#333" stroke-width="0.75"/>
<line x1="323.2" y1="160.9" x2="323.2" y2="162.7" stroke="#333" stroke-width="0.75"/>
<line x1="311" y1="124.03" x2="312.8" y2="124.03" stroke="#333" stroke-width="0.75"/>
<line x1="328.55" y1="160.9" x2="328.55" y2="162.7" stroke="#333" stroke-width="0.75"/>
<line x1="311" y1="129.34" x2="312.8" y2="129.34" stroke="#333" stroke-width="0.75"/>
<line x1="333.9" y1="160.9" x2="333.9" y2="162.7" stroke="#333" stroke-width="0.75"/>
<line x1="311" y1="134.65" x2="312.8" y2="134.65" stroke="#333" stroke-width="0.75"/>
<line x1="339.25" y1="160.9" x2="339.25" y2="162.7" stroke="#333" stroke-width="0.75"/>
<line x1="311" y1="139.96" x2="312.8" y2="139.96" stroke="#333" stroke-width="0.75"/>
<line x1="344.6" y1="160.9" x2="344.6" y2="162.7" stroke="#333" stroke-width="0.75"/>
<line x1="311" y1="145.27" x2="312.8" y2="145.27" stroke="#333" stroke-width="0.75"/>
<line x1="349.95" y1="160.9" x2="349.95" y2="162.7" stroke="#333" stroke-width="0.75"/>
<line x1="311" y1="150.58" x2="312.8" y2="150.58" stroke="#333" stroke-width="0.75"/>
<line x1="355.3" y1="160.9" x2="355.3" y2="162.7" stroke="#333" stroke-width="0.75"/>
<line x1="311" y1="155.89" x2="312.8" y2="155.89" stroke="#333" stroke-width="0.75"/>
<line x1="360.65" y1="160.9" x2="360.65" y2="162.7" stroke="#333" stroke-width="0.75"/>
<rect x="376.2" y="47.5" width="52.4" height="53.3" fill="none" stroke="#2a2a2a" stroke-width="1.1"/>
<line x1="374.7" y1="52.83" x2="376.5" y2="52.83" stroke="#333" stroke-width="0.75"/>
<line x1="381.44" y1="100.5" x2="381.44" y2="102.3" stroke="#333" stroke-width="0.75"/>
<line x1="374.7" y1="58.16" x2="376.5" y2="58.16" stroke="#333" stroke-width="0.75"/>
<line x1="386.68" y1="100.5" x2="386.68" y2="102.3" stroke="#333" stroke-width="0.75"/>
<line x1="374.7" y1="63.49" x2="376.5" y2="63.49" stroke="#333" stroke-width="0.75"/>
<line x1="391.92" y1="100.5" x2="391.92" y2="102.3" stroke="#333" stroke-width="0.75"/>
<line x1="374.7" y1="68.82" x2="376.5" y2="68.82" stroke="#333" stroke-width="0.75"/>
<line x1="397.16" y1="100.5" x2="397.16" y2="102.3" stroke="#333" stroke-width="0.75"/>
<line x1="374.7" y1="74.15" x2="376.5" y2="74.15" stroke="#333" stroke-width="0.75"/>
<line x1="402.4" y1="100.5" x2="402.4" y2="102.3" stroke="#333" stroke-width="0.75"/>
<line x1="374.7" y1="79.48" x2="376.5" y2="79.48" stroke="#333" stroke-width="0.75"/>
<line x1="407.64" y1="100.5" x2="407.64" y2="102.3" stroke="#333" stroke-width="0.75"/>
<line x1="374.7" y1="84.81" x2="376.5" y2="84.81" stroke="#333" stroke-width="0.75"/>
<line x1="412.88" y1="100.5" x2="412.88" y2="102.3" stroke="#333" stroke-width="0.75"/>
<line x1="374.7" y1="90.14" x2="376.5" y2="90.14" stroke="#333" stroke-width="0.75"/>
<line x1="418.12" y1="100.5" x2="418.12" y2="102.3" stroke="#333" stroke-width="0.75"/>
<line x1="374.7" y1="95.47" x2="376.5" y2="95.47" stroke="#333" stroke-width="0.75"/>
<line x1="423.36" y1="100.5" x2="423.36" y2="102.3" stroke="#333" stroke-width="0.75"/>
<rect x="377.4" y="108.1" width="53" height="53.1" fill="none" stroke="#2a2a2a" stroke-width="1.1"/>
<line x1="375.9" y1="113.41" x2="377.7" y2="113.41" stroke="#333" stroke-width="0.75"/>
<line x1="382.7" y1="160.9" x2="382.7" y2="162.7" stroke="#333" stroke-width="0.75"/>
<line x1="375.9" y1="118.72" x2="377.7" y2="118.72" stroke="#333" stroke-width="0.75"/>
<line x1="388" y1="160.9" x2="388" y2="162.7" stroke="#333" stroke-width="0.75"/>
<line x1="375.9" y1="124.03" x2="377.7" y2="124.03" stroke="#333" stroke-width="0.75"/>
<line x1="393.3" y1="160.9" x2="393.3" y2="162.7" stroke="#333" stroke-width="0.75"/>
<line x1="375.9" y1="129.34" x2="377.7" y2="129.34" stroke="#333" stroke-width="0.75"/>
<line x1="398.6" y1="160.9" x2="398.6" y2="162.7" stroke="#333" stroke-width="0.75"/>
<line x1="375.9" y1="134.65" x2="377.7" y2="134.65" stroke="#333" stroke-width="0.75"/>
<line x1="403.9" y1="160.9" x2="403.9" y2="162.7" stroke="#333" stroke-width="0.75"/>
<line x1="375.9" y1="139.96" x2="377.7" y2="139.96" stroke="#333" stroke-width="0.75"/>
<line x1="409.2" y1="160.9" x2="409.2" y2="162.7" stroke="#333" stroke-width="0.75"/>
<line x1="375.9" y1="145.27" x2="377.7" y2="145.27" stroke="#333" stroke-width="0.75"/>
<line x1="414.5" y1="160.9" x2="414.5" y2="162.7" stroke="#333" stroke-width="0.75"/>
<line x1="375.9" y1="150.58" x2="377.7" y2="150.58" stroke="#333" stroke-width="0.75"/>
<line x1="419.8" y1="160.9" x2="419.8" y2="162.7" stroke="#333" stroke-width="0.75"/>
<line x1="375.9" y1="155.89" x2="377.7" y2="155.89" stroke="#333" stroke-width="0.75"/>
<line x1="425.1" y1="160.9" x2="425.1" y2="162.7" stroke="#333" stroke-width="0.75"/>
<rect x="453.6" y="48.1" width="54" height="53.5" fill="none" stroke="#2a2a2a" stroke-width="1.1"/>
<line x1="452.1" y1="53.45" x2="453.9" y2="53.45" stroke="#333" stroke-width="0.75"/>
<line x1="459" y1="101.3" x2="459" y2="103.1" stroke="#333" stroke-width="0.75"/>
<line x1="452.1" y1="58.8" x2="453.9" y2="58.8" stroke="#333" stroke-width="0.75"/>
<line x1="464.4" y1="101.3" x2="464.4" y2="103.1" stroke="#333" stroke-width="0.75"/>
<line x1="452.1" y1="64.15" x2="453.9" y2="64.15" stroke="#333" stroke-width="0.75"/>
<line x1="469.8" y1="101.3" x2="469.8" y2="103.1" stroke="#333" stroke-width="0.75"/>
<line x1="452.1" y1="69.5" x2="453.9" y2="69.5" stroke="#333" stroke-width="0.75"/>
<line x1="475.2" y1="101.3" x2="475.2" y2="103.1" stroke="#333" stroke-width="0.75"/>
<line x1="452.1" y1="74.85" x2="453.9" y2="74.85" stroke="#333" stroke-width="0.75"/>
<line x1="480.6" y1="101.3" x2="480.6" y2="103.1" stroke="#333" stroke-width="0.75"/>
<line x1="452.1" y1="80.2" x2="453.9" y2="80.2" stroke="#333" stroke-width="0.75"/>
<line x1="486" y1="101.3" x2="486" y2="103.1" stroke="#333" stroke-width="0.75"/>
<line x1="452.1" y1="85.55" x2="453.9" y2="85.55" stroke="#333" stroke-width="0.75"/>
<line x1="491.4" y1="101.3" x2="491.4" y2="103.1" stroke="#333" stroke-width="0.75"/>
<line x1="452.1" y1="90.9" x2="453.9" y2="90.9" stroke="#333" stroke-width="0.75"/>
<line x1="496.8" y1="101.3" x2="496.8" y2="103.1" stroke="#333" stroke-width="0.75"/>
<line x1="452.1" y1="96.25" x2="453.9" y2="96.25" stroke="#333" stroke-width="0.75"/>
<line x1="502.2" y1="101.3" x2="502.2" y2="103.1" stroke="#333" stroke-width="0.75"/>
<rect x="454" y="108.1" width="52.4" height="53.1" fill="none" stroke="#2a2a2a" stroke-width="1.1"/>
<line x1="452.5" y1="113.41" x2="454.3" y2="113.41" stroke="#333" stroke-width="0.75"/>
<line x1="459.24" y1="160.9" x2="459.24" y2="162.7" stroke="#333" stroke-width="0.75"/>
<line x1="452.5" y1="118.72" x2="454.3" y2="118.72" stroke="#333" stroke-width="0.75"/>
<line x1="464.48" y1="160.9" x2="464.48" y2="162.7" stroke="#333" stroke-width="0.75"/>
<line x1="452.5" y1="124.03" x2="454.3" y2="124.03" stroke="#333" stroke-width="0.75"/>
<line x1="469.72" y1="160.9" x2="469.72" y2="162.7" stroke="#333" stroke-width="0.75"/>
<line x1="452.5" y1="129.34" x2="454.3" y2="129.34" stroke="#333" stroke-width="0.75"/>
<line x1="474.96" y1="160.9" x2="474.96" y2="162.7" stroke="#333" stroke-width="0.75"/>
<line x1="452.5" y1="134.65" x2="454.3" y2="134.65" stroke="#333" stroke-width="0.75"/>
<line x1="480.2" y1="160.9" x2="480.2" y2="162.7" stroke="#333" stroke-width="0.75"/>
<line x1="452.5" y1="139.96" x2="454.3" y2="139.96" stroke="#333" stroke-width="0.75"/>
<line x1="485.44" y1="160.9" x2="485.44" y2="162.7" stroke="#333" stroke-width="0.75"/>
<line x1="452.5" y1="145.27" x2="454.3" y2="145.27" stroke="#333" stroke-width="0.75"/>
<line x1="490.68" y1="160.9" x2="490.68" y2="162.7" stroke="#333" stroke-width="0.75"/>
<line x1="452.5" y1="150.58" x2="454.3" y2="150.58" stroke="#333" stroke-width="0.75"/>
<line x1="495.92" y1="160.9" x2="495.92" y2="162.7" stroke="#333" stroke-width="0.75"/>
<line x1="452.5" y1="155.89" x2="454.3" y2="155.89" stroke="#333" stroke-width="0.75"/>
<line x1="501.16" y1="160.9" x2="501.16" y2="162.7" stroke="#333" stroke-width="0.75"/>
<text x="276.8" y="73.4" font-size="11.3" text-anchor="start" font-weight="normal" fill="#000" >PB</text>
<text x="274.6" y="125.8" font-size="11.3" text-anchor="start" font-weight="normal" fill="#000" >BM</text>
<line x1="299" y1="52.5" x2="299" y2="135.7" stroke="#000" stroke-width="1.2"/>
<path d="M299 49.5L296.7 54.4L301.3 54.4Z" fill="#000"/>
<line x1="444" y1="52.4" x2="444" y2="135.2" stroke="#000" stroke-width="1.2"/>
<path d="M444 49.4L441.7 54.3L446.3 54.3Z" fill="#000"/>
<text transform="translate(303.6,163.3) rotate(-90)" font-size="14.6" font-weight="normal" stroke="#000" stroke-width="0.55" textLength="23.0" lengthAdjust="spacingAndGlyphs">CD56</text>
<text transform="translate(449.3,162.5) rotate(-90)" font-size="14.6" font-weight="normal" stroke="#000" stroke-width="0.55" textLength="22.2" lengthAdjust="spacingAndGlyphs">CD94</text>
<text x="312.2" y="180.3" font-size="14.6" font-weight="normal" stroke="#000" stroke-width="0.55" textLength="22" lengthAdjust="spacingAndGlyphs">CD94</text>
<line x1="339.6" y1="176" x2="362.8" y2="176" stroke="#000" stroke-width="1.2"/>
<path d="M365.8 176L360.5 173.6L360.5 178.4Z" fill="#000"/>
<text x="380.1" y="180" font-size="14.6" font-weight="normal" stroke="#000" stroke-width="0.55" textLength="17.4" lengthAdjust="spacingAndGlyphs">Ki67</text>
<line x1="402.3" y1="175.9" x2="500.5" y2="175.9" stroke="#000" stroke-width="1.2"/>
<path d="M503.5 175.9L498.2 173.5L498.2 178.3Z" fill="#000"/>
<rect x="312.4" y="236.1" width="53.6" height="53.3" fill="none" stroke="#2a2a2a" stroke-width="1.1"/>
<line x1="310.9" y1="241.43" x2="312.7" y2="241.43" stroke="#333" stroke-width="0.75"/>
<line x1="317.76" y1="289.1" x2="317.76" y2="290.9" stroke="#333" stroke-width="0.75"/>
<line x1="310.9" y1="246.76" x2="312.7" y2="246.76" stroke="#333" stroke-width="0.75"/>
<line x1="323.12" y1="289.1" x2="323.12" y2="290.9" stroke="#333" stroke-width="0.75"/>
<line x1="310.9" y1="252.09" x2="312.7" y2="252.09" stroke="#333" stroke-width="0.75"/>
<line x1="328.48" y1="289.1" x2="328.48" y2="290.9" stroke="#333" stroke-width="0.75"/>
<line x1="310.9" y1="257.42" x2="312.7" y2="257.42" stroke="#333" stroke-width="0.75"/>
<line x1="333.84" y1="289.1" x2="333.84" y2="290.9" stroke="#333" stroke-width="0.75"/>
<line x1="310.9" y1="262.75" x2="312.7" y2="262.75" stroke="#333" stroke-width="0.75"/>
<line x1="339.2" y1="289.1" x2="339.2" y2="290.9" stroke="#333" stroke-width="0.75"/>
<line x1="310.9" y1="268.08" x2="312.7" y2="268.08" stroke="#333" stroke-width="0.75"/>
<line x1="344.56" y1="289.1" x2="344.56" y2="290.9" stroke="#333" stroke-width="0.75"/>
<line x1="310.9" y1="273.41" x2="312.7" y2="273.41" stroke="#333" stroke-width="0.75"/>
<line x1="349.92" y1="289.1" x2="349.92" y2="290.9" stroke="#333" stroke-width="0.75"/>
<line x1="310.9" y1="278.74" x2="312.7" y2="278.74" stroke="#333" stroke-width="0.75"/>
<line x1="355.28" y1="289.1" x2="355.28" y2="290.9" stroke="#333" stroke-width="0.75"/>
<line x1="310.9" y1="284.07" x2="312.7" y2="284.07" stroke="#333" stroke-width="0.75"/>
<line x1="360.64" y1="289.1" x2="360.64" y2="290.9" stroke="#333" stroke-width="0.75"/>
<rect x="312.4" y="296.4" width="53.6" height="54.2" fill="none" stroke="#2a2a2a" stroke-width="1.1"/>
<line x1="310.9" y1="301.82" x2="312.7" y2="301.82" stroke="#333" stroke-width="0.75"/>
<line x1="317.76" y1="350.3" x2="317.76" y2="352.1" stroke="#333" stroke-width="0.75"/>
<line x1="310.9" y1="307.24" x2="312.7" y2="307.24" stroke="#333" stroke-width="0.75"/>
<line x1="323.12" y1="350.3" x2="323.12" y2="352.1" stroke="#333" stroke-width="0.75"/>
<line x1="310.9" y1="312.66" x2="312.7" y2="312.66" stroke="#333" stroke-width="0.75"/>
<line x1="328.48" y1="350.3" x2="328.48" y2="352.1" stroke="#333" stroke-width="0.75"/>
<line x1="310.9" y1="318.08" x2="312.7" y2="318.08" stroke="#333" stroke-width="0.75"/>
<line x1="333.84" y1="350.3" x2="333.84" y2="352.1" stroke="#333" stroke-width="0.75"/>
<line x1="310.9" y1="323.5" x2="312.7" y2="323.5" stroke="#333" stroke-width="0.75"/>
<line x1="339.2" y1="350.3" x2="339.2" y2="352.1" stroke="#333" stroke-width="0.75"/>
<line x1="310.9" y1="328.92" x2="312.7" y2="328.92" stroke="#333" stroke-width="0.75"/>
<line x1="344.56" y1="350.3" x2="344.56" y2="352.1" stroke="#333" stroke-width="0.75"/>
<line x1="310.9" y1="334.34" x2="312.7" y2="334.34" stroke="#333" stroke-width="0.75"/>
<line x1="349.92" y1="350.3" x2="349.92" y2="352.1" stroke="#333" stroke-width="0.75"/>
<line x1="310.9" y1="339.76" x2="312.7" y2="339.76" stroke="#333" stroke-width="0.75"/>
<line x1="355.28" y1="350.3" x2="355.28" y2="352.1" stroke="#333" stroke-width="0.75"/>
<line x1="310.9" y1="345.18" x2="312.7" y2="345.18" stroke="#333" stroke-width="0.75"/>
<line x1="360.64" y1="350.3" x2="360.64" y2="352.1" stroke="#333" stroke-width="0.75"/>
<rect x="374.5" y="236.1" width="53.3" height="53.3" fill="none" stroke="#2a2a2a" stroke-width="1.1"/>
<line x1="373" y1="241.43" x2="374.8" y2="241.43" stroke="#333" stroke-width="0.75"/>
<line x1="379.83" y1="289.1" x2="379.83" y2="290.9" stroke="#333" stroke-width="0.75"/>
<line x1="373" y1="246.76" x2="374.8" y2="246.76" stroke="#333" stroke-width="0.75"/>
<line x1="385.16" y1="289.1" x2="385.16" y2="290.9" stroke="#333" stroke-width="0.75"/>
<line x1="373" y1="252.09" x2="374.8" y2="252.09" stroke="#333" stroke-width="0.75"/>
<line x1="390.49" y1="289.1" x2="390.49" y2="290.9" stroke="#333" stroke-width="0.75"/>
<line x1="373" y1="257.42" x2="374.8" y2="257.42" stroke="#333" stroke-width="0.75"/>
<line x1="395.82" y1="289.1" x2="395.82" y2="290.9" stroke="#333" stroke-width="0.75"/>
<line x1="373" y1="262.75" x2="374.8" y2="262.75" stroke="#333" stroke-width="0.75"/>
<line x1="401.15" y1="289.1" x2="401.15" y2="290.9" stroke="#333" stroke-width="0.75"/>
<line x1="373" y1="268.08" x2="374.8" y2="268.08" stroke="#333" stroke-width="0.75"/>
<line x1="406.48" y1="289.1" x2="406.48" y2="290.9" stroke="#333" stroke-width="0.75"/>
<line x1="373" y1="273.41" x2="374.8" y2="273.41" stroke="#333" stroke-width="0.75"/>
<line x1="411.81" y1="289.1" x2="411.81" y2="290.9" stroke="#333" stroke-width="0.75"/>
<line x1="373" y1="278.74" x2="374.8" y2="278.74" stroke="#333" stroke-width="0.75"/>
<line x1="417.14" y1="289.1" x2="417.14" y2="290.9" stroke="#333" stroke-width="0.75"/>
<line x1="373" y1="284.07" x2="374.8" y2="284.07" stroke="#333" stroke-width="0.75"/>
<line x1="422.47" y1="289.1" x2="422.47" y2="290.9" stroke="#333" stroke-width="0.75"/>
<rect x="373.5" y="296.4" width="51.9" height="54.2" fill="none" stroke="#2a2a2a" stroke-width="1.1"/>
<line x1="372" y1="301.82" x2="373.8" y2="301.82" stroke="#333" stroke-width="0.75"/>
<line x1="378.69" y1="350.3" x2="378.69" y2="352.1" stroke="#333" stroke-width="0.75"/>
<line x1="372" y1="307.24" x2="373.8" y2="307.24" stroke="#333" stroke-width="0.75"/>
<line x1="383.88" y1="350.3" x2="383.88" y2="352.1" stroke="#333" stroke-width="0.75"/>
<line x1="372" y1="312.66" x2="373.8" y2="312.66" stroke="#333" stroke-width="0.75"/>
<line x1="389.07" y1="350.3" x2="389.07" y2="352.1" stroke="#333" stroke-width="0.75"/>
<line x1="372" y1="318.08" x2="373.8" y2="318.08" stroke="#333" stroke-width="0.75"/>
<line x1="394.26" y1="350.3" x2="394.26" y2="352.1" stroke="#333" stroke-width="0.75"/>
<line x1="372" y1="323.5" x2="373.8" y2="323.5" stroke="#333" stroke-width="0.75"/>
<line x1="399.45" y1="350.3" x2="399.45" y2="352.1" stroke="#333" stroke-width="0.75"/>
<line x1="372" y1="328.92" x2="373.8" y2="328.92" stroke="#333" stroke-width="0.75"/>
<line x1="404.64" y1="350.3" x2="404.64" y2="352.1" stroke="#333" stroke-width="0.75"/>
<line x1="372" y1="334.34" x2="373.8" y2="334.34" stroke="#333" stroke-width="0.75"/>
<line x1="409.83" y1="350.3" x2="409.83" y2="352.1" stroke="#333" stroke-width="0.75"/>
<line x1="372" y1="339.76" x2="373.8" y2="339.76" stroke="#333" stroke-width="0.75"/>
<line x1="415.02" y1="350.3" x2="415.02" y2="352.1" stroke="#333" stroke-width="0.75"/>
<line x1="372" y1="345.18" x2="373.8" y2="345.18" stroke="#333" stroke-width="0.75"/>
<line x1="420.21" y1="350.3" x2="420.21" y2="352.1" stroke="#333" stroke-width="0.75"/>
<rect x="454.3" y="236.7" width="53.4" height="53.5" fill="none" stroke="#2a2a2a" stroke-width="1.1"/>
<line x1="452.8" y1="242.05" x2="454.6" y2="242.05" stroke="#333" stroke-width="0.75"/>
<line x1="459.64" y1="289.9" x2="459.64" y2="291.7" stroke="#333" stroke-width="0.75"/>
<line x1="452.8" y1="247.4" x2="454.6" y2="247.4" stroke="#333" stroke-width="0.75"/>
<line x1="464.98" y1="289.9" x2="464.98" y2="291.7" stroke="#333" stroke-width="0.75"/>
<line x1="452.8" y1="252.75" x2="454.6" y2="252.75" stroke="#333" stroke-width="0.75"/>
<line x1="470.32" y1="289.9" x2="470.32" y2="291.7" stroke="#333" stroke-width="0.75"/>
<line x1="452.8" y1="258.1" x2="454.6" y2="258.1" stroke="#333" stroke-width="0.75"/>
<line x1="475.66" y1="289.9" x2="475.66" y2="291.7" stroke="#333" stroke-width="0.75"/>
<line x1="452.8" y1="263.45" x2="454.6" y2="263.45" stroke="#333" stroke-width="0.75"/>
<line x1="481" y1="289.9" x2="481" y2="291.7" stroke="#333" stroke-width="0.75"/>
<line x1="452.8" y1="268.8" x2="454.6" y2="268.8" stroke="#333" stroke-width="0.75"/>
<line x1="486.34" y1="289.9" x2="486.34" y2="291.7" stroke="#333" stroke-width="0.75"/>
<line x1="452.8" y1="274.15" x2="454.6" y2="274.15" stroke="#333" stroke-width="0.75"/>
<line x1="491.68" y1="289.9" x2="491.68" y2="291.7" stroke="#333" stroke-width="0.75"/>
<line x1="452.8" y1="279.5" x2="454.6" y2="279.5" stroke="#333" stroke-width="0.75"/>
<line x1="497.02" y1="289.9" x2="497.02" y2="291.7" stroke="#333" stroke-width="0.75"/>
<line x1="452.8" y1="284.85" x2="454.6" y2="284.85" stroke="#333" stroke-width="0.75"/>
<line x1="502.36" y1="289.9" x2="502.36" y2="291.7" stroke="#333" stroke-width="0.75"/>
<rect x="454.3" y="296.4" width="53.4" height="54.2" fill="none" stroke="#2a2a2a" stroke-width="1.1"/>
<line x1="452.8" y1="301.82" x2="454.6" y2="301.82" stroke="#333" stroke-width="0.75"/>
<line x1="459.64" y1="350.3" x2="459.64" y2="352.1" stroke="#333" stroke-width="0.75"/>
<line x1="452.8" y1="307.24" x2="454.6" y2="307.24" stroke="#333" stroke-width="0.75"/>
<line x1="464.98" y1="350.3" x2="464.98" y2="352.1" stroke="#333" stroke-width="0.75"/>
<line x1="452.8" y1="312.66" x2="454.6" y2="312.66" stroke="#333" stroke-width="0.75"/>
<line x1="470.32" y1="350.3" x2="470.32" y2="352.1" stroke="#333" stroke-width="0.75"/>
<line x1="452.8" y1="318.08" x2="454.6" y2="318.08" stroke="#333" stroke-width="0.75"/>
<line x1="475.66" y1="350.3" x2="475.66" y2="352.1" stroke="#333" stroke-width="0.75"/>
<line x1="452.8" y1="323.5" x2="454.6" y2="323.5" stroke="#333" stroke-width="0.75"/>
<line x1="481" y1="350.3" x2="481" y2="352.1" stroke="#333" stroke-width="0.75"/>
<line x1="452.8" y1="328.92" x2="454.6" y2="328.92" stroke="#333" stroke-width="0.75"/>
<line x1="486.34" y1="350.3" x2="486.34" y2="352.1" stroke="#333" stroke-width="0.75"/>
<line x1="452.8" y1="334.34" x2="454.6" y2="334.34" stroke="#333" stroke-width="0.75"/>
<line x1="491.68" y1="350.3" x2="491.68" y2="352.1" stroke="#333" stroke-width="0.75"/>
<line x1="452.8" y1="339.76" x2="454.6" y2="339.76" stroke="#333" stroke-width="0.75"/>
<line x1="497.02" y1="350.3" x2="497.02" y2="352.1" stroke="#333" stroke-width="0.75"/>
<line x1="452.8" y1="345.18" x2="454.6" y2="345.18" stroke="#333" stroke-width="0.75"/>
<line x1="502.36" y1="350.3" x2="502.36" y2="352.1" stroke="#333" stroke-width="0.75"/>
<text x="276.8" y="261.3" font-size="11.3" text-anchor="start" font-weight="normal" fill="#000" >PB</text>
<text x="274.6" y="313.7" font-size="11.3" text-anchor="start" font-weight="normal" fill="#000" >BM</text>
<line x1="299" y1="240.3" x2="299" y2="323.8" stroke="#000" stroke-width="1.2"/>
<path d="M299 237.3L296.7 242.2L301.3 242.2Z" fill="#000"/>
<line x1="440.7" y1="241.2" x2="440.7" y2="324.3" stroke="#000" stroke-width="1.2"/>
<path d="M440.7 238.2L438.4 243.1L443 243.1Z" fill="#000"/>
<text transform="translate(303.4,351.3) rotate(-90)" font-size="14.6" font-weight="normal" stroke="#000" stroke-width="0.55" textLength="22.8" lengthAdjust="spacingAndGlyphs">CD56</text>
<text transform="translate(445.4,350.8) rotate(-90)" font-size="14.6" font-weight="normal" stroke="#000" stroke-width="0.55" textLength="21.2" lengthAdjust="spacingAndGlyphs">CD94</text>
<text x="311.3" y="369.6" font-size="14.6" font-weight="normal" stroke="#000" stroke-width="0.55" textLength="22.2" lengthAdjust="spacingAndGlyphs">CD94</text>
<line x1="338.1" y1="365.1" x2="361.8" y2="365.1" stroke="#000" stroke-width="1.2"/>
<path d="M364.8 365.1L359.5 362.7L359.5 367.5Z" fill="#000"/>
<text x="379.2" y="369.5" font-size="14.6" font-weight="normal" stroke="#000" stroke-width="0.55" textLength="17.3" lengthAdjust="spacingAndGlyphs">Ki67</text>
<line x1="401.6" y1="365.3" x2="499" y2="365.3" stroke="#000" stroke-width="1.2"/>
<path d="M502 365.3L496.7 362.9L496.7 367.7Z" fill="#000"/>
<rect x="312.4" y="429.5" width="53.4" height="52.1" fill="none" stroke="#2a2a2a" stroke-width="1.1"/>
<line x1="310.9" y1="434.71" x2="312.7" y2="434.71" stroke="#333" stroke-width="0.75"/>
<line x1="317.74" y1="481.3" x2="317.74" y2="483.1" stroke="#333" stroke-width="0.75"/>
<line x1="310.9" y1="439.92" x2="312.7" y2="439.92" stroke="#333" stroke-width="0.75"/>
<line x1="323.08" y1="481.3" x2="323.08" y2="483.1" stroke="#333" stroke-width="0.75"/>
<line x1="310.9" y1="445.13" x2="312.7" y2="445.13" stroke="#333" stroke-width="0.75"/>
<line x1="328.42" y1="481.3" x2="328.42" y2="483.1" stroke="#333" stroke-width="0.75"/>
<line x1="310.9" y1="450.34" x2="312.7" y2="450.34" stroke="#333" stroke-width="0.75"/>
<line x1="333.76" y1="481.3" x2="333.76" y2="483.1" stroke="#333" stroke-width="0.75"/>
<line x1="310.9" y1="455.55" x2="312.7" y2="455.55" stroke="#333" stroke-width="0.75"/>
<line x1="339.1" y1="481.3" x2="339.1" y2="483.1" stroke="#333" stroke-width="0.75"/>
<line x1="310.9" y1="460.76" x2="312.7" y2="460.76" stroke="#333" stroke-width="0.75"/>
<line x1="344.44" y1="481.3" x2="344.44" y2="483.1" stroke="#333" stroke-width="0.75"/>
<line x1="310.9" y1="465.97" x2="312.7" y2="465.97" stroke="#333" stroke-width="0.75"/>
<line x1="349.78" y1="481.3" x2="349.78" y2="483.1" stroke="#333" stroke-width="0.75"/>
<line x1="310.9" y1="471.18" x2="312.7" y2="471.18" stroke="#333" stroke-width="0.75"/>
<line x1="355.12" y1="481.3" x2="355.12" y2="483.1" stroke="#333" stroke-width="0.75"/>
<line x1="310.9" y1="476.39" x2="312.7" y2="476.39" stroke="#333" stroke-width="0.75"/>
<line x1="360.46" y1="481.3" x2="360.46" y2="483.1" stroke="#333" stroke-width="0.75"/>
<rect x="312.4" y="489.6" width="53.4" height="53.2" fill="none" stroke="#2a2a2a" stroke-width="1.1"/>
<line x1="310.9" y1="494.92" x2="312.7" y2="494.92" stroke="#333" stroke-width="0.75"/>
<line x1="317.74" y1="542.5" x2="317.74" y2="544.3" stroke="#333" stroke-width="0.75"/>
<line x1="310.9" y1="500.24" x2="312.7" y2="500.24" stroke="#333" stroke-width="0.75"/>
<line x1="323.08" y1="542.5" x2="323.08" y2="544.3" stroke="#333" stroke-width="0.75"/>
<line x1="310.9" y1="505.56" x2="312.7" y2="505.56" stroke="#333" stroke-width="0.75"/>
<line x1="328.42" y1="542.5" x2="328.42" y2="544.3" stroke="#333" stroke-width="0.75"/>
<line x1="310.9" y1="510.88" x2="312.7" y2="510.88" stroke="#333" stroke-width="0.75"/>
<line x1="333.76" y1="542.5" x2="333.76" y2="544.3" stroke="#333" stroke-width="0.75"/>
<line x1="310.9" y1="516.2" x2="312.7" y2="516.2" stroke="#333" stroke-width="0.75"/>
<line x1="339.1" y1="542.5" x2="339.1" y2="544.3" stroke="#333" stroke-width="0.75"/>
<line x1="310.9" y1="521.52" x2="312.7" y2="521.52" stroke="#333" stroke-width="0.75"/>
<line x1="344.44" y1="542.5" x2="344.44" y2="544.3" stroke="#333" stroke-width="0.75"/>
<line x1="310.9" y1="526.84" x2="312.7" y2="526.84" stroke="#333" stroke-width="0.75"/>
<line x1="349.78" y1="542.5" x2="349.78" y2="544.3" stroke="#333" stroke-width="0.75"/>
<line x1="310.9" y1="532.16" x2="312.7" y2="532.16" stroke="#333" stroke-width="0.75"/>
<line x1="355.12" y1="542.5" x2="355.12" y2="544.3" stroke="#333" stroke-width="0.75"/>
<line x1="310.9" y1="537.48" x2="312.7" y2="537.48" stroke="#333" stroke-width="0.75"/>
<line x1="360.46" y1="542.5" x2="360.46" y2="544.3" stroke="#333" stroke-width="0.75"/>
<rect x="375.5" y="429.5" width="53.3" height="52.1" fill="none" stroke="#2a2a2a" stroke-width="1.1"/>
<line x1="374" y1="434.71" x2="375.8" y2="434.71" stroke="#333" stroke-width="0.75"/>
<line x1="380.83" y1="481.3" x2="380.83" y2="483.1" stroke="#333" stroke-width="0.75"/>
<line x1="374" y1="439.92" x2="375.8" y2="439.92" stroke="#333" stroke-width="0.75"/>
<line x1="386.16" y1="481.3" x2="386.16" y2="483.1" stroke="#333" stroke-width="0.75"/>
<line x1="374" y1="445.13" x2="375.8" y2="445.13" stroke="#333" stroke-width="0.75"/>
<line x1="391.49" y1="481.3" x2="391.49" y2="483.1" stroke="#333" stroke-width="0.75"/>
<line x1="374" y1="450.34" x2="375.8" y2="450.34" stroke="#333" stroke-width="0.75"/>
<line x1="396.82" y1="481.3" x2="396.82" y2="483.1" stroke="#333" stroke-width="0.75"/>
<line x1="374" y1="455.55" x2="375.8" y2="455.55" stroke="#333" stroke-width="0.75"/>
<line x1="402.15" y1="481.3" x2="402.15" y2="483.1" stroke="#333" stroke-width="0.75"/>
<line x1="374" y1="460.76" x2="375.8" y2="460.76" stroke="#333" stroke-width="0.75"/>
<line x1="407.48" y1="481.3" x2="407.48" y2="483.1" stroke="#333" stroke-width="0.75"/>
<line x1="374" y1="465.97" x2="375.8" y2="465.97" stroke="#333" stroke-width="0.75"/>
<line x1="412.81" y1="481.3" x2="412.81" y2="483.1" stroke="#333" stroke-width="0.75"/>
<line x1="374" y1="471.18" x2="375.8" y2="471.18" stroke="#333" stroke-width="0.75"/>
<line x1="418.14" y1="481.3" x2="418.14" y2="483.1" stroke="#333" stroke-width="0.75"/>
<line x1="374" y1="476.39" x2="375.8" y2="476.39" stroke="#333" stroke-width="0.75"/>
<line x1="423.47" y1="481.3" x2="423.47" y2="483.1" stroke="#333" stroke-width="0.75"/>
<rect x="374.5" y="489.6" width="53.3" height="53.2" fill="none" stroke="#2a2a2a" stroke-width="1.1"/>
<line x1="373" y1="494.92" x2="374.8" y2="494.92" stroke="#333" stroke-width="0.75"/>
<line x1="379.83" y1="542.5" x2="379.83" y2="544.3" stroke="#333" stroke-width="0.75"/>
<line x1="373" y1="500.24" x2="374.8" y2="500.24" stroke="#333" stroke-width="0.75"/>
<line x1="385.16" y1="542.5" x2="385.16" y2="544.3" stroke="#333" stroke-width="0.75"/>
<line x1="373" y1="505.56" x2="374.8" y2="505.56" stroke="#333" stroke-width="0.75"/>
<line x1="390.49" y1="542.5" x2="390.49" y2="544.3" stroke="#333" stroke-width="0.75"/>
<line x1="373" y1="510.88" x2="374.8" y2="510.88" stroke="#333" stroke-width="0.75"/>
<line x1="395.82" y1="542.5" x2="395.82" y2="544.3" stroke="#333" stroke-width="0.75"/>
<line x1="373" y1="516.2" x2="374.8" y2="516.2" stroke="#333" stroke-width="0.75"/>
<line x1="401.15" y1="542.5" x2="401.15" y2="544.3" stroke="#333" stroke-width="0.75"/>
<line x1="373" y1="521.52" x2="374.8" y2="521.52" stroke="#333" stroke-width="0.75"/>
<line x1="406.48" y1="542.5" x2="406.48" y2="544.3" stroke="#333" stroke-width="0.75"/>
<line x1="373" y1="526.84" x2="374.8" y2="526.84" stroke="#333" stroke-width="0.75"/>
<line x1="411.81" y1="542.5" x2="411.81" y2="544.3" stroke="#333" stroke-width="0.75"/>
<line x1="373" y1="532.16" x2="374.8" y2="532.16" stroke="#333" stroke-width="0.75"/>
<line x1="417.14" y1="542.5" x2="417.14" y2="544.3" stroke="#333" stroke-width="0.75"/>
<line x1="373" y1="537.48" x2="374.8" y2="537.48" stroke="#333" stroke-width="0.75"/>
<line x1="422.47" y1="542.5" x2="422.47" y2="544.3" stroke="#333" stroke-width="0.75"/>
<rect x="455.4" y="430.1" width="53.4" height="52.3" fill="none" stroke="#2a2a2a" stroke-width="1.1"/>
<line x1="453.9" y1="435.33" x2="455.7" y2="435.33" stroke="#333" stroke-width="0.75"/>
<line x1="460.74" y1="482.1" x2="460.74" y2="483.9" stroke="#333" stroke-width="0.75"/>
<line x1="453.9" y1="440.56" x2="455.7" y2="440.56" stroke="#333" stroke-width="0.75"/>
<line x1="466.08" y1="482.1" x2="466.08" y2="483.9" stroke="#333" stroke-width="0.75"/>
<line x1="453.9" y1="445.79" x2="455.7" y2="445.79" stroke="#333" stroke-width="0.75"/>
<line x1="471.42" y1="482.1" x2="471.42" y2="483.9" stroke="#333" stroke-width="0.75"/>
<line x1="453.9" y1="451.02" x2="455.7" y2="451.02" stroke="#333" stroke-width="0.75"/>
<line x1="476.76" y1="482.1" x2="476.76" y2="483.9" stroke="#333" stroke-width="0.75"/>
<line x1="453.9" y1="456.25" x2="455.7" y2="456.25" stroke="#333" stroke-width="0.75"/>
<line x1="482.1" y1="482.1" x2="482.1" y2="483.9" stroke="#333" stroke-width="0.75"/>
<line x1="453.9" y1="461.48" x2="455.7" y2="461.48" stroke="#333" stroke-width="0.75"/>
<line x1="487.44" y1="482.1" x2="487.44" y2="483.9" stroke="#333" stroke-width="0.75"/>
<line x1="453.9" y1="466.71" x2="455.7" y2="466.71" stroke="#333" stroke-width="0.75"/>
<line x1="492.78" y1="482.1" x2="492.78" y2="483.9" stroke="#333" stroke-width="0.75"/>
<line x1="453.9" y1="471.94" x2="455.7" y2="471.94" stroke="#333" stroke-width="0.75"/>
<line x1="498.12" y1="482.1" x2="498.12" y2="483.9" stroke="#333" stroke-width="0.75"/>
<line x1="453.9" y1="477.17" x2="455.7" y2="477.17" stroke="#333" stroke-width="0.75"/>
<line x1="503.46" y1="482.1" x2="503.46" y2="483.9" stroke="#333" stroke-width="0.75"/>
<rect x="454.6" y="489.6" width="53.9" height="53.2" fill="none" stroke="#2a2a2a" stroke-width="1.1"/>
<line x1="453.1" y1="494.92" x2="454.9" y2="494.92" stroke="#333" stroke-width="0.75"/>
<line x1="459.99" y1="542.5" x2="459.99" y2="544.3" stroke="#333" stroke-width="0.75"/>
<line x1="453.1" y1="500.24" x2="454.9" y2="500.24" stroke="#333" stroke-width="0.75"/>
<line x1="465.38" y1="542.5" x2="465.38" y2="544.3" stroke="#333" stroke-width="0.75"/>
<line x1="453.1" y1="505.56" x2="454.9" y2="505.56" stroke="#333" stroke-width="0.75"/>
<line x1="470.77" y1="542.5" x2="470.77" y2="544.3" stroke="#333" stroke-width="0.75"/>
<line x1="453.1" y1="510.88" x2="454.9" y2="510.88" stroke="#333" stroke-width="0.75"/>
<line x1="476.16" y1="542.5" x2="476.16" y2="544.3" stroke="#333" stroke-width="0.75"/>
<line x1="453.1" y1="516.2" x2="454.9" y2="516.2" stroke="#333" stroke-width="0.75"/>
<line x1="481.55" y1="542.5" x2="481.55" y2="544.3" stroke="#333" stroke-width="0.75"/>
<line x1="453.1" y1="521.52" x2="454.9" y2="521.52" stroke="#333" stroke-width="0.75"/>
<line x1="486.94" y1="542.5" x2="486.94" y2="544.3" stroke="#333" stroke-width="0.75"/>
<line x1="453.1" y1="526.84" x2="454.9" y2="526.84" stroke="#333" stroke-width="0.75"/>
<line x1="492.33" y1="542.5" x2="492.33" y2="544.3" stroke="#333" stroke-width="0.75"/>
<line x1="453.1" y1="532.16" x2="454.9" y2="532.16" stroke="#333" stroke-width="0.75"/>
<line x1="497.72" y1="542.5" x2="497.72" y2="544.3" stroke="#333" stroke-width="0.75"/>
<line x1="453.1" y1="537.48" x2="454.9" y2="537.48" stroke="#333" stroke-width="0.75"/>
<line x1="503.11" y1="542.5" x2="503.11" y2="544.3" stroke="#333" stroke-width="0.75"/>
<text x="276.8" y="453.7" font-size="11.3" text-anchor="start" font-weight="normal" fill="#000" >PB</text>
<text x="274.6" y="506.2" font-size="11.3" text-anchor="start" font-weight="normal" fill="#000" >BM</text>
<line x1="299.2" y1="433.1" x2="299.2" y2="516.4" stroke="#000" stroke-width="1.2"/>
<path d="M299.2 430.1L296.9 435L301.5 435Z" fill="#000"/>
<line x1="441.2" y1="433" x2="441.2" y2="516.2" stroke="#000" stroke-width="1.2"/>
<path d="M441.2 430L438.9 434.9L443.5 434.9Z" fill="#000"/>
<text transform="translate(303.4,544) rotate(-90)" font-size="14.6" font-weight="normal" stroke="#000" stroke-width="0.55" textLength="23.3" lengthAdjust="spacingAndGlyphs">CD56</text>
<text transform="translate(445.7,542.8) rotate(-90)" font-size="14.6" font-weight="normal" stroke="#000" stroke-width="0.55" textLength="21.6" lengthAdjust="spacingAndGlyphs">CD94</text>
<text x="314.8" y="561.4" font-size="14.6" font-weight="normal" stroke="#000" stroke-width="0.55" textLength="22.5" lengthAdjust="spacingAndGlyphs">CD94</text>
<line x1="341.9" y1="557.3" x2="365.6" y2="557.3" stroke="#000" stroke-width="1.2"/>
<path d="M368.6 557.3L363.3 554.9L363.3 559.7Z" fill="#000"/>
<text x="382.5" y="560" font-size="14.6" font-weight="normal" stroke="#000" stroke-width="0.55" textLength="17.6" lengthAdjust="spacingAndGlyphs">Ki67</text>
<line x1="405.3" y1="556.2" x2="502.9" y2="556.2" stroke="#000" stroke-width="1.2"/>
<path d="M505.9 556.2L500.6 553.8L500.6 558.6Z" fill="#000"/>
<line x1="377.4" y1="188.5" x2="377.4" y2="210.6" stroke="#000" stroke-width="1.25"/>
<path d="M377.4 213.6L374.9 208.3L379.9 208.3Z" fill="#000"/>
<text x="382" y="206.3" font-size="11.4" text-anchor="start" font-weight="normal" fill="#000" >sMM</text>
<line x1="386.1" y1="376.8" x2="386.1" y2="402.9" stroke="#000" stroke-width="1.25"/>
<path d="M386.1 405.9L383.6 400.6L388.6 400.6Z" fill="#000"/>
<text x="389.9" y="399.6" font-size="12.1" text-anchor="start" font-weight="normal" fill="#000" >MM</text>
<path d="M351.6 63L349.6 60.8L346.6 60.6L344.8 62.6L344.2 66.2L342.2 69L338.6 69.8L333.8 69.6L329.8 70.6L327.8 72L327.4 72.6L326.6 75.4L327 77.8L328.6 79.6L331.8 80.4L342.4 80.4L346.2 78.6L348.4 75.4L350.2 71.2L351.4 67.2Z" fill="#b8b8b8" stroke="#000" stroke-width="0.85" stroke-linejoin="round"/>
<path d="M350.4 62L349.4 61L347.8 60.8L346.6 61L345.2 62.8L344.8 66.6L344 67.6L344 68L342.6 69.6L338.6 70.4L334 70.2L332.6 70.6L331 70.6L328.4 72L327.6 73L326.8 75.6L327.2 77.6L328.4 79L332 80L342.2 79.8L345.8 78L348.2 74L351 66.8L351.2 63.2Z" fill="#ececec" stroke="#222" stroke-width="0.4" stroke-linejoin="round"/>
<path d="M350.2 62.2L349.2 61.2L347.6 61L346.4 61.6L345.4 63.6L345.2 67.2L344.2 69L343 70.2L336.8 71L335.8 70.8L331.2 71L328.4 72.4L328 72.8L327.2 75L327.2 76.2L327.6 77.6L329 79L331.4 79.6L333.6 79.6L335.8 79.2L342 79.4L345.2 77.6L347 74.8L348 72L350.6 66.8L350.8 63.2Z" fill="#9a9a9a" stroke="#000" stroke-width="0.45" stroke-linejoin="round"/>
<path d="M349.6 61.8L349 61.4L347 61.4L345.8 63.2L345.6 65L345.8 65.2L345.8 67.6L345.2 69L343.8 70.6L342.4 71L339.4 71L336.8 71.6L330.8 71.4L329.8 71.8L328.2 73L327.4 75.4L327.8 77.4L329.2 78.8L332.4 79.4L335.6 78.6L341 79L342 78.8L343.8 77.8L345 76.8L346.6 73.8L347.6 70.8L348.2 70.2L348.2 69.8L349.6 68L350.4 66.4L350.6 63.4Z" fill="#dcdcdc" stroke="#222" stroke-width="0.4" stroke-linejoin="round"/>
<path d="M345.8 72.8L344.6 71L343.6 71.6L339.8 71.4L336.6 72.2L331 71.8L329 72.6L328.4 73.2L327.6 75.8L327.8 76.8L328.6 78L330 78.8L331.8 79L336 78L338 78.4L341.6 78.4L343.2 77.6L344.4 76.6L345.8 73.6Z" fill="#8a8a8a" stroke="#000" stroke-width="0.45" stroke-linejoin="round"/>
<path d="M348.8 61.6L347.2 61.6L346.6 62.2L346 63.8L346.4 68.2L346 69.2L347 70L349.4 67.4L350.2 65.6L350.4 63.4L349.8 62.4Z" fill="#8a8a8a" stroke="#000" stroke-width="0.45" stroke-linejoin="round"/>
<path d="M344 74L343.4 72.8L342.6 72L340.8 71.8L339 72L336.4 72.8L331 72.2L329.2 73L328.6 73.6L328 74.8L328 76.6L329.4 78.2L330 78.4L333 78.4L335.8 77.4L338.6 78L341.2 78L342.8 77.2L344 76Z" fill="#cccccc" stroke="#222" stroke-width="0.4" stroke-linejoin="round"/>
<path d="M348.8 61.8L347.2 62L346.4 63.6L346.4 65.4L346.8 67.2L347.6 68L348 68L349.4 66.6L350 64.8L350 63.4L349.4 62.2Z" fill="#cccccc" stroke="#222" stroke-width="0.4" stroke-linejoin="round"/>
<path d="M343.2 74.8L342.8 73.6L341.4 72.4L339.2 72.4L337.8 72.8L336 74.4L335.4 74.4L333.4 72.8L331 72.6L329.2 73.4L328.4 74.8L328.4 76.4L329.6 77.8L331.2 78.2L334 77.6L335.8 76L338 77.4L341 77.6L342.8 76.4Z" fill="#707070" stroke="#000" stroke-width="0.45" stroke-linejoin="round"/>
<path d="M347.8 62.2L347.2 62.6L346.8 63.4L346.8 65.6L347.6 67L348.4 67L349.4 65.6L349.8 64L348.8 62.2Z" fill="#707070" stroke="#000" stroke-width="0.45" stroke-linejoin="round"/>
<path d="M329.6 73.6L328.6 75.6L329 76.8L329.6 77.4L330.8 77.8L332 77.8L333.6 77.2L334.4 75.4L334.2 74.6L333.4 73.6L332.4 73L331 73Z" fill="#bcbcbc" stroke="#222" stroke-width="0.4" stroke-linejoin="round"/>
<path d="M339.6 72.8L337.8 73.8L337.4 74.6L337.4 75.6L338.8 77L340.4 77.2L341.4 76.8L342 76.2L342.4 75.4L342.4 74.6L341.4 73.2Z" fill="#bcbcbc" stroke="#222" stroke-width="0.4" stroke-linejoin="round"/>
<path d="M348 62.6L347.4 63L347 64.6L347.4 66L348.4 66.4L349.2 65.2L349.4 63.8L348.6 62.6Z" fill="#bcbcbc" stroke="#222" stroke-width="0.4" stroke-linejoin="round"/>
<path d="M338.4 74.4L338.2 75L338.4 75.6L339.4 76.4L340.6 76.4L341.6 75.4L341.4 74.2L340.6 73.6L339.4 73.6Z" fill="#4a4a4a" stroke="#000" stroke-width="0.4" stroke-linejoin="round"/>
<path d="M331 73.4L330 73.8L329.4 74.4L329 75.8L329.2 76.4L330 77.2L332 77.4L333.2 76.6L333.6 75.4L333.2 74.4L332.6 73.8L331.8 73.4Z" fill="#4a4a4a" stroke="#000" stroke-width="0.4" stroke-linejoin="round"/>
<path d="M347.8 63.2L347.4 64L347.4 64.8L348 65.6L348.4 65.6L349 64L348.6 63.2Z" fill="#4a4a4a" stroke="#000" stroke-width="0.4" stroke-linejoin="round"/>
<path d="M339.4 74.8L339.6 75.4L340.4 75.4L340.6 75L340.4 74.6Z" fill="#9a9a9a" stroke="#222" stroke-width="0.4" stroke-linejoin="round"/>
<path d="M330.4 74L329.6 75L329.6 76.2L330.6 77L331.6 77L332.4 76.6L332.8 76L332.8 75L332.4 74.4L331.6 74Z" fill="#9a9a9a" stroke="#222" stroke-width="0.4" stroke-linejoin="round"/>
<path d="M348 63.8L348 64.4L348.4 64.4L348.4 64Z" fill="#9a9a9a" stroke="#222" stroke-width="0.4" stroke-linejoin="round"/>
<path d="M330.4 74.6L329.8 75.4L330 76L330.4 76.4L331.6 76.4L332.2 75.8L332.2 75.2L331.6 74.6Z" fill="#111" stroke="#000" stroke-width="0.35" stroke-linejoin="round"/>
<path d="M396.8 71.4L392.8 71.2L389.6 72.4L387 74.4L384.2 77.8L383.4 80.2L383.8 83.2L386 84.6L389.2 85L394.2 84.8L397 83.6Z" fill="#b8b8b8" stroke="#000" stroke-width="0.85" stroke-linejoin="round"/>
<path d="M396 72.2L393 72L391.2 72.8L390 73L386.8 75.4L385 77.6L384 80.4L384.4 82.8L386.4 84.2L389.2 84.6L394 84.4L396.4 83.2L396.4 77.8L396 75.8Z" fill="#ececec" stroke="#222" stroke-width="0.4" stroke-linejoin="round"/>
<path d="M395.2 73L394.8 72.8L392.2 73L389.8 74L389.2 74.6L387.6 75.4L385.2 78.2L384.6 80.2L384.8 82.4L386.6 83.8L389.4 84.4L391.6 84.4L393.8 84L396 82.8L396 78.2L395.6 77.6Z" fill="#9a9a9a" stroke="#000" stroke-width="0.45" stroke-linejoin="round"/>
<path d="M394.4 73.6L393.2 73.6L390.2 74.6L387.6 76.2L386 78L385.2 80L385.2 81.6L385.4 82.2L386.4 83.2L389.6 84.2L391.4 84.2L392.2 83.8L393.4 83.8L395.4 82.4L395.6 79.8L394.6 76Z" fill="#dcdcdc" stroke="#222" stroke-width="0.4" stroke-linejoin="round"/>
<path d="M393.8 74.8L393.4 74.6L391.6 74.8L388.2 76.4L386.2 78.6L385.6 80.6L385.8 81.8L387.8 83.4L390 84L392.6 83.6L394.2 82.8L395 82L395 79L394 76.4Z" fill="#8a8a8a" stroke="#000" stroke-width="0.45" stroke-linejoin="round"/>
<path d="M386.8 78.6L386.2 80.2L386.2 81.4L386.8 82.2L388 83L390 83.6L391 83.6L393.4 82.8L394.6 81.4L394.4 78.6L393.8 77.4L392.4 76.4L389.8 76.2L388.6 76.8Z" fill="#cccccc" stroke="#222" stroke-width="0.4" stroke-linejoin="round"/>
<path d="M387.2 78.8L386.6 80.6L386.8 81.4L388.6 82.8L390 83.2L391.2 83.2L393.2 82.4L394 81.6L394.2 81L394 79L392.8 77.6L392 77.2L389.6 77L388.6 77.4Z" fill="#707070" stroke="#000" stroke-width="0.45" stroke-linejoin="round"/>
<path d="M389.4 77.8L388.6 78.2L387.6 79.4L387.4 80L387.6 81.6L389.8 82.8L391.2 82.8L393 82L393.6 81L393.6 80L393.2 79L391.6 77.8L390.8 77.6Z" fill="#bcbcbc" stroke="#222" stroke-width="0.4" stroke-linejoin="round"/>
<path d="M388.8 78.8L388 80.2L388.2 81.4L388.8 82L389.8 82.4L391.2 82.4L392.2 82L392.8 81.4L393 80.2L392.2 78.8L390.8 78.2Z" fill="#4a4a4a" stroke="#000" stroke-width="0.4" stroke-linejoin="round"/>
<path d="M389.6 79L388.8 79.8L388.8 81.2L389.8 82L391.6 81.8L392.2 81.2L392.2 79.8L391.4 79L390.6 78.8Z" fill="#9a9a9a" stroke="#222" stroke-width="0.4" stroke-linejoin="round"/>
<path d="M390.2 79.4L389.4 80L389.4 81L390.2 81.6L390.8 81.6L391.6 81L391.6 80L390.8 79.4Z" fill="#111" stroke="#000" stroke-width="0.35" stroke-linejoin="round"/>
<path d="M469.9 62.3L465.7 64.1L464.1 67.9L464.5 73.3L466.5 77.3L464.7 83.1L464.5 84.7L465.1 88.1L467.7 90.5L471.1 90.9L473.9 89.3L474.3 88.5L475.1 84.5L473.7 77.5L475.7 74.1L476.5 70.5L476.1 66.5L474.3 63.7L473.1 63.1Z" fill="#b8b8b8" stroke="#000" stroke-width="0.85" stroke-linejoin="round"/>
<path d="M470.1 62.7L466.1 64.7L464.7 68.1L465.1 73.1L467.1 77.1L467.1 78.1L465.1 84.1L465.7 87.9L467.9 89.9L470.7 90.5L473.7 88.5L474.3 86.5L474.5 84.5L473.9 80.9L473.1 78.3L473.1 77.3L475.1 73.9L475.9 69.5L475.5 66.7L473.9 64.1Z" fill="#ececec" stroke="#222" stroke-width="0.4" stroke-linejoin="round"/>
<path d="M469.7 63.3L466.5 64.9L465.1 68.5L465.5 72.9L467.7 77.3L467.3 79.7L466.5 81.1L465.5 84.3L466.3 87.9L468.3 89.7L471.1 89.9L473.3 88.3L473.9 86.5L474.1 84.5L473.5 81.3L472.5 78.5L472.5 77.7L474.7 73.7L475.5 69.9L475.1 67.1L473.5 64.3L470.9 63.3Z" fill="#9a9a9a" stroke="#000" stroke-width="0.45" stroke-linejoin="round"/>
<path d="M469.7 63.7L466.9 65.3L465.7 68.5L466.1 72.9L468.5 77.7L467.9 79.9L467.3 80.7L466.1 83.9L466.1 85.5L466.5 87.3L467.7 88.7L468.5 89.3L470.9 89.5L472.9 88.1L473.7 85.5L473.3 82.5L471.9 79.1L471.9 77.3L474.3 73.3L474.9 69.5L474.5 67.1L473.3 64.9L471.5 63.9Z" fill="#dcdcdc" stroke="#222" stroke-width="0.4" stroke-linejoin="round"/>
<path d="M470.3 64.1L468.3 64.9L467.3 65.7L466.3 68.3L466.5 72.5L467.7 75.1L469.1 77.3L469.1 78.9L467.1 82.3L466.5 84.1L466.7 86.5L467.3 87.7L468.7 88.9L470.7 89.1L472.1 88.3L473.1 86.3L473.3 85.5L473.1 83.3L471.3 79.5L471.1 77.5L473.5 73.9L474.3 71.1L474.3 68.3L473.7 66.5L472.5 64.9Z" fill="#8a8a8a" stroke="#000" stroke-width="0.45" stroke-linejoin="round"/>
<path d="M469.3 80.3L467.9 81.7L467.1 83.5L466.9 85.1L467.5 87.3L468.9 88.5L470.5 88.7L472.1 87.7L472.9 85.5L472.9 84.3L472.5 82.7L471.5 80.9L470.7 80.3Z" fill="#cccccc" stroke="#222" stroke-width="0.4" stroke-linejoin="round"/>
<path d="M469.9 64.7L467.7 66.1L466.7 68.7L466.7 70.9L467.1 72.7L468.5 75.3L469.5 76.5L470.9 76.5L472.7 74.3L473.5 72.7L473.9 69.1L473.7 67.7L472.5 65.5L470.7 64.7Z" fill="#cccccc" stroke="#222" stroke-width="0.4" stroke-linejoin="round"/>
<path d="M469.5 81.3L468.3 81.9L467.5 83.5L467.3 85.5L467.7 86.9L468.7 87.9L470.3 88.3L471.9 87.3L472.5 85.7L472.5 84.1L471.7 82.1L471.1 81.5Z" fill="#707070" stroke="#000" stroke-width="0.45" stroke-linejoin="round"/>
<path d="M469.9 65.3L468.1 66.3L467.1 68.9L467.1 70.5L467.5 72.5L468.3 74.1L469.5 75.1L471.1 75.1L471.9 74.5L473.1 72.5L473.5 69.3L473.3 67.9L472.3 66.1L470.9 65.3Z" fill="#707070" stroke="#000" stroke-width="0.45" stroke-linejoin="round"/>
<path d="M469.3 82.1L467.9 83.5L467.7 85.7L467.9 86.5L469.1 87.7L470.3 87.9L471.1 87.5L471.9 86.5L472.1 83.9L471.7 82.9L471.1 82.3Z" fill="#bcbcbc" stroke="#222" stroke-width="0.4" stroke-linejoin="round"/>
<path d="M469.7 65.9L468.5 66.9L467.9 68.1L467.7 71.1L468.5 73.1L469.3 73.9L470.9 74.1L472.1 73.1L472.7 71.9L472.9 68.9L472.1 66.9L471.3 66.1Z" fill="#bcbcbc" stroke="#222" stroke-width="0.4" stroke-linejoin="round"/>
<path d="M469.5 82.7L468.5 83.5L468.1 84.5L468.1 85.5L468.5 86.5L469.1 87.1L470.5 87.3L471.5 86.5L471.9 84.5L471.5 83.5L470.9 82.9Z" fill="#4a4a4a" stroke="#000" stroke-width="0.4" stroke-linejoin="round"/>
<path d="M470.3 66.7L469.1 67.3L468.3 69.1L468.5 71.7L469.3 72.9L470.3 73.3L471.5 72.7L472.3 70.9L472.1 68.3L471.3 67.1Z" fill="#4a4a4a" stroke="#000" stroke-width="0.4" stroke-linejoin="round"/>
<path d="M469.7 83.3L468.7 84.3L468.7 85.7L469.3 86.5L470.3 86.7L471.3 85.7L471.3 84.3L470.7 83.5Z" fill="#9a9a9a" stroke="#222" stroke-width="0.4" stroke-linejoin="round"/>
<path d="M470.3 67.7L469.5 68.1L468.9 69.3L469.1 71.3L469.7 72.1L470.3 72.3L471.1 71.9L471.7 70.7L471.5 68.7L470.9 67.9Z" fill="#9a9a9a" stroke="#222" stroke-width="0.4" stroke-linejoin="round"/>
<path d="M469.7 83.9L469.1 84.7L469.1 85.3L469.7 86.1L470.3 86.1L470.9 85.3L470.9 84.7L470.3 83.9Z" fill="#111" stroke="#000" stroke-width="0.35" stroke-linejoin="round"/>
<path d="M470.1 68.9L469.5 70.1L469.7 70.7L470.5 71.1L471.1 69.9L470.9 69.3Z" fill="#111" stroke="#000" stroke-width="0.35" stroke-linejoin="round"/>
<path d="M349.6 122.5L347.2 120.5L343.4 120.1L340.4 120.9L337.6 123.1L337.4 125.9L337 127.1L332.2 127.9L329.2 128.1L326.6 130.1L325.6 133.7L325.6 134.3L327.2 138.5L330 140.3L340 140.5L343.8 138.3L345.8 134.3L348.8 129.7L350 126.3Z" fill="#b8b8b8" stroke="#000" stroke-width="0.85" stroke-linejoin="round"/>
<path d="M349 122.9L346.8 121.1L343.8 120.7L342 121.5L340.6 121.7L338.4 123.5L338.2 126.1L337.6 127.7L335.2 128.3L334.4 128.1L332.4 128.5L329.4 128.7L327.2 130.3L326 133.9L327.6 138.3L330.4 139.9L336.6 139.9L336.8 139.7L339.4 139.7L339.6 139.9L343.4 137.9L345.8 133.7L346.6 131.7L348 129.7L348.4 128.1L349 127.1L349.4 125.9Z" fill="#ececec" stroke="#222" stroke-width="0.4" stroke-linejoin="round"/>
<path d="M348.4 123.1L347.2 121.9L346.2 121.5L343.6 121.5L342.4 122.1L341.2 122.3L339 124.1L338.8 126.9L338 128.3L335.6 128.9L330.8 128.9L329.8 129.1L328.2 130.1L327.4 130.9L326.6 133.3L326.6 134.7L327.8 137.7L330.4 139.5L339.8 139.1L343 137.7L343.8 136.9L345.2 134.1L346 131.5L348.6 126.3Z" fill="#9a9a9a" stroke="#000" stroke-width="0.45" stroke-linejoin="round"/>
<path d="M347.8 123.3L346.4 122.1L345.4 121.9L343.8 122.1L342.4 122.9L341.4 123.1L339.8 124.5L339.8 126.3L339.4 127.9L338.2 129.1L337 129.5L330.8 129.5L329.8 129.7L327.8 131.1L326.8 134.1L328 137.5L328.6 138.1L330.6 139.1L332.6 138.9L333.4 139.1L336.8 138.3L339.4 138.5L343 137.3L344.6 134.7L345.4 130.9L347.8 126.9L348.2 125.7Z" fill="#dcdcdc" stroke="#222" stroke-width="0.4" stroke-linejoin="round"/>
<path d="M347.4 123.7L346 122.5L344.4 122.5L342 123.7L342.2 127.9L341.6 128.3L340 128.5L337.8 130.1L335.2 130.3L331.2 129.9L330.2 130.1L328.8 130.9L328.2 131.5L327.4 133.3L327.6 135.5L328.6 137.5L330.4 138.5L331.6 138.7L331.8 138.5L333.8 138.5L336.2 137.7L339.2 137.9L342.8 136.9L343.8 135.7L344.4 134.3L345 129.9L346.2 128.5L347.6 126.1Z" fill="#8a8a8a" stroke="#000" stroke-width="0.45" stroke-linejoin="round"/>
<path d="M344 131.3L342.8 130.5L341 130.3L339.4 130.9L337.2 133.1L336.6 133.1L334.2 130.7L330.6 130.5L328.6 131.7L327.8 133.7L327.8 134.5L328.6 136.7L329.4 137.5L330.6 138.1L333.2 138.1L335.2 137.5L337 135.3L337.6 135.5L339 136.9L340.6 137.1L342.2 136.7L343.4 135.5L344 134.1Z" fill="#cccccc" stroke="#222" stroke-width="0.4" stroke-linejoin="round"/>
<path d="M344.2 123.1L343.4 124.5L343.6 126.1L344.2 127.1L345 127.5L346 127.5L347.2 125.9L347.2 124.3L346.2 123.1L345.6 122.9Z" fill="#cccccc" stroke="#222" stroke-width="0.4" stroke-linejoin="round"/>
<path d="M342.4 131.3L340.6 131.3L339.8 131.7L338.8 132.9L338.6 133.5L338.8 135.1L340.2 136.5L342 136.3L343.4 134.7L343.6 132.1Z" fill="#707070" stroke="#000" stroke-width="0.45" stroke-linejoin="round"/>
<path d="M329 131.9L328.4 133.1L328.2 134.3L328.6 135.9L329.2 136.9L330.8 137.7L332.8 137.7L333.8 137.5L334.8 136.5L335.4 135.1L335.4 133.9L334.8 132.5L333.8 131.5L332.4 130.9L330.8 130.9Z" fill="#707070" stroke="#000" stroke-width="0.45" stroke-linejoin="round"/>
<path d="M345 123.5L344.2 124.5L344.2 125.5L345 126.5L346 126.5L346.8 125.5L346.8 124.5L346 123.5Z" fill="#707070" stroke="#000" stroke-width="0.45" stroke-linejoin="round"/>
<path d="M342.4 132.1L341.6 131.9L340.6 132.1L339.6 133.1L339.4 133.7L339.6 134.9L340.6 135.9L341.8 135.9L343 134.5L343.2 133.1Z" fill="#bcbcbc" stroke="#222" stroke-width="0.4" stroke-linejoin="round"/>
<path d="M331 131.5L329.6 132.1L329 132.7L328.6 133.7L328.8 135.3L329.6 136.7L330.8 137.3L332.6 137.3L334.2 136.1L334.6 135.1L334.6 133.9L334.2 132.9L333.4 132.1L332 131.5Z" fill="#bcbcbc" stroke="#222" stroke-width="0.4" stroke-linejoin="round"/>
<path d="M345.4 124.5L345.2 125.3L345.6 125.5L345.8 124.7Z" fill="#bcbcbc" stroke="#222" stroke-width="0.4" stroke-linejoin="round"/>
<path d="M341.2 132.7L340.4 133.3L340.2 134.3L340.8 135.1L341.6 135.3L342.4 134.7L342.6 133.3L342.2 132.9Z" fill="#4a4a4a" stroke="#000" stroke-width="0.4" stroke-linejoin="round"/>
<path d="M331.2 132.1L330.2 132.5L329.4 133.3L329 134.5L329.4 135.7L330.2 136.5L331.8 136.9L332.8 136.5L333.8 135.5L334 134.3L333.4 132.9L332.4 132.3Z" fill="#4a4a4a" stroke="#000" stroke-width="0.4" stroke-linejoin="round"/>
<path d="M330.4 133.1L329.8 133.9L330 135.5L330.8 136.1L332.6 135.9L333.2 135.1L333 133.5L332.2 132.9Z" fill="#9a9a9a" stroke="#222" stroke-width="0.4" stroke-linejoin="round"/>
<path d="M330.6 133.7L330.4 134.1L330.6 135.3L331 135.5L332.4 135.3L332.6 134.9L332.4 133.7L332 133.5Z" fill="#111" stroke="#000" stroke-width="0.35" stroke-linejoin="round"/>
<path d="M396.7 125.6L393.5 127.2L391.5 129.6L389.9 133L389.1 137.4L389.3 141L389.9 142.6L391.5 144.6L394.7 145.2L398.1 143.6L399.5 140.2L399.5 133.4L398.7 127.6Z" fill="#b8b8b8" stroke="#000" stroke-width="0.85" stroke-linejoin="round"/>
<path d="M396.7 126.6L393.7 127.6L392.3 129.2L390.3 134L389.7 137.4L389.7 140.4L390.1 141.8L391.1 143.4L391.9 144.2L394.9 144.8L397.7 143.4L399.1 140L398.7 131.2L397.9 127.8Z" fill="#ececec" stroke="#222" stroke-width="0.4" stroke-linejoin="round"/>
<path d="M396.5 127.4L395.5 127.4L393.9 128L392.5 129.6L390.7 134.4L390.1 137.4L390.1 140.4L390.7 142.2L391.9 143.8L394.3 144.4L395.1 144.4L397.5 143L398.7 139.8L398.7 136.8L398.5 136.6L398.5 134.6L398.1 133.6L397.9 130.2L397.5 128.6Z" fill="#9a9a9a" stroke="#000" stroke-width="0.45" stroke-linejoin="round"/>
<path d="M396.3 128L393.9 128.4L392.5 130.2L392.1 132.4L390.5 137.4L390.5 140.4L391.1 142L392.1 143.4L393.9 144L395.1 144L396.7 143.2L397.3 142.6L398.3 140L398.3 136.8L397.5 133.6L397.3 130.2L396.9 128.6Z" fill="#dcdcdc" stroke="#222" stroke-width="0.4" stroke-linejoin="round"/>
<path d="M396.1 128.6L394.7 128.6L393.3 129.6L392.7 130.8L392.5 132.8L390.9 137.6L391.1 141L392.7 143.2L393.9 143.6L395.1 143.6L396.3 143L397.1 142.2L397.9 140L397.9 137.2L396.9 133.4L396.9 130.8L396.5 129Z" fill="#8a8a8a" stroke="#000" stroke-width="0.45" stroke-linejoin="round"/>
<path d="M395.9 129.2L394.5 129.2L393.7 129.8L393.1 131L392.9 133.4L391.3 137.8L391.3 139.8L391.9 141.6L392.9 142.8L394.3 143.2L396.1 142.6L396.7 142L397.5 140L397.5 137.4L396.5 134L396.5 131.2Z" fill="#cccccc" stroke="#222" stroke-width="0.4" stroke-linejoin="round"/>
<path d="M395.5 129.8L394.3 130L393.5 131.2L393.3 134.2L392.5 135.4L391.7 137.8L391.9 140.8L392.5 141.8L393.7 142.6L395.1 142.6L395.9 142.2L396.7 141.2L397.1 140L397.1 137.4L396.5 135.4L395.7 134.2L395.9 130.6Z" fill="#707070" stroke="#000" stroke-width="0.45" stroke-linejoin="round"/>
<path d="M394.3 135L393.3 135.6L392.3 137L392.1 140.2L393.3 142L395.1 142.2L396.1 141.4L396.5 140.6L396.9 138.4L396.7 137.2L396.1 136L395.1 135.2Z" fill="#bcbcbc" stroke="#222" stroke-width="0.4" stroke-linejoin="round"/>
<path d="M394.9 130.4L394.1 131L393.9 131.8L394.3 132.4L394.7 132.4L395.1 131.8Z" fill="#bcbcbc" stroke="#222" stroke-width="0.4" stroke-linejoin="round"/>
<path d="M394.3 136L393.1 136.8L392.5 138L392.5 140L393.3 141.4L394.1 141.8L394.9 141.8L395.7 141.4L396.3 140.2L396.5 138L395.5 136.4Z" fill="#4a4a4a" stroke="#000" stroke-width="0.4" stroke-linejoin="round"/>
<path d="M393.9 137L393.1 138.2L393.1 139.8L393.7 140.8L394.9 141L395.5 140.6L395.9 139.8L395.9 138.2L395.1 137Z" fill="#9a9a9a" stroke="#222" stroke-width="0.4" stroke-linejoin="round"/>
<path d="M394.7 137.6L394.3 137.6L393.5 138.8L393.7 139.8L394.5 140.4L395.3 139.8L395.5 139.2L395.3 138.2Z" fill="#111" stroke="#000" stroke-width="0.35" stroke-linejoin="round"/>
<path d="M470 120.4L467.6 121.2L466 123L465.4 124.4L465 129L465.6 132.4L465.6 134L465 137.4L464.6 144.4L465 148.2L466.6 151.6L470.4 153L471 153L475 152L477 149.6L477.2 147.6L477 137.6L476.4 134.8L476.2 129.4L475.6 125.2L473.6 121.6Z" fill="#b8b8b8" stroke="#000" stroke-width="0.85" stroke-linejoin="round"/>
<path d="M470.2 120.8L467.8 121.6L466.4 123.4L466 124.4L465.6 129L466.2 132.4L466.2 134.4L466 134.6L465.8 139.4L465.2 142.4L465.2 146.6L465.4 147.8L467.2 151.2L470.2 152.2L471.4 152.2L474.4 151.4L476.2 149.4L476.6 145.2L476.2 144L476.2 137.8L475.6 135L475.6 132.4L475.4 132.2L475.6 129.8L475 125.6L473.4 122.2Z" fill="#ececec" stroke="#222" stroke-width="0.4" stroke-linejoin="round"/>
<path d="M469.8 121.2L468.2 121.8L466.6 123.8L466.2 125.4L466 129L466.6 132.2L466.6 135.4L466.8 135.6L466.2 141.4L465.6 143L465.6 146.4L465.8 147.8L467.6 150.8L469.8 151.6L471.4 151.6L474.2 150.8L475.6 149L475.8 144.2L475.6 144L475.4 137.6L475 136.2L474.8 128.2L474.4 125.4L473 122.4L470.6 121.2Z" fill="#9a9a9a" stroke="#000" stroke-width="0.45" stroke-linejoin="round"/>
<path d="M469.8 121.6L468 122.4L466.8 124.4L466.4 129L467.4 134.2L467.4 138L467.2 138.2L467.4 139L466.8 141.8L466 143.8L466 146.8L466.6 148.6L468 150.4L470 151L471.4 151L473.8 150.2L475 148.6L475.2 144.6L474.8 143L474.6 137.8L474.2 136.2L474 126.2L472.8 123L471.2 121.8Z" fill="#dcdcdc" stroke="#222" stroke-width="0.4" stroke-linejoin="round"/>
<path d="M469.8 122L468.4 122.6L467.2 124.6L466.8 129L468 134.4L468.4 139L468 139.4L467.6 141.4L466.6 143.4L466.4 146.8L467 148.4L468 149.8L470.8 150.6L473.2 149.8L474.2 148.8L474.6 147.4L474.6 144.4L474 142.2L474 141L471.6 139L471.8 138.2L473.6 135.8L473.4 135.6L473.6 130.8L473.8 130.6L473.6 126.6L473.2 125L472.4 123.4L471 122.2Z" fill="#8a8a8a" stroke="#000" stroke-width="0.45" stroke-linejoin="round"/>
<path d="M469.2 141.6L467.8 142.2L467.2 143.2L466.8 144.8L466.8 146.8L467 147.6L468.6 149.6L470 150L471.2 150L473 149.2L473.6 148.4L474.2 146.8L474.2 145.2L473.6 143.6L472.8 142.6L470.8 141.6Z" fill="#cccccc" stroke="#222" stroke-width="0.4" stroke-linejoin="round"/>
<path d="M469.6 122.6L468.6 123.2L467.6 124.8L467.2 129L467.6 131.4L468.6 134.6L470.2 135.2L471.2 134.8L472 134L473 132L473.2 127L472 123.6L470.6 122.6Z" fill="#cccccc" stroke="#222" stroke-width="0.4" stroke-linejoin="round"/>
<path d="M468.2 143L467.4 144L467.2 146.8L467.6 147.8L468.8 149.2L471 149.4L472.8 148L473.4 146.6L473.4 145.4L472.8 144L471.8 143L470 142.4Z" fill="#707070" stroke="#000" stroke-width="0.45" stroke-linejoin="round"/>
<path d="M469.6 123.2L468.4 124.2L468 125L467.6 127L467.6 129.2L468.6 132.8L469.6 133.6L470.4 133.6L471.8 132.4L472.2 131.6L472.8 129L472.8 127L471.8 124.2L470.6 123.2Z" fill="#707070" stroke="#000" stroke-width="0.45" stroke-linejoin="round"/>
<path d="M469.2 143.2L467.8 144.2L467.6 146.8L468.8 148.6L470.8 148.8L471.6 148.4L472.6 147L472.8 146L472.6 145L471.6 143.6L470.8 143.2Z" fill="#bcbcbc" stroke="#222" stroke-width="0.4" stroke-linejoin="round"/>
<path d="M470.2 123.6L469.4 123.8L468.8 124.4L468 126.6L468.2 130.4L468.8 131.8L469.6 132.4L470.4 132.4L471.2 131.8L472.2 129L472.2 127L471.8 125.4L471.2 124.2Z" fill="#bcbcbc" stroke="#222" stroke-width="0.4" stroke-linejoin="round"/>
<path d="M469.4 143.8L468.6 144.2L468 145L467.8 145.8L468 147L468.6 147.8L469.4 148.2L470.6 148.2L471.4 147.8L472 147L472.2 146.2L472 145L471.4 144.2L470.6 143.8Z" fill="#4a4a4a" stroke="#000" stroke-width="0.4" stroke-linejoin="round"/>
<path d="M470 124.6L469.2 125L468.4 127L468.4 129L468.8 130.4L469.2 131L470 131.4L470.8 131L471.6 129L471.6 127L471.2 125.6L470.8 125Z" fill="#4a4a4a" stroke="#000" stroke-width="0.4" stroke-linejoin="round"/>
<path d="M469.6 144.4L468.6 145.2L468.4 146.2L469.2 147.4L470.4 147.6L471.4 146.8L471.6 145.8L470.8 144.6Z" fill="#9a9a9a" stroke="#222" stroke-width="0.4" stroke-linejoin="round"/>
<path d="M469.6 126L469 127.2L469 128.8L469.6 130L470.4 130L471 128.8L471 127.2L470.4 126Z" fill="#9a9a9a" stroke="#222" stroke-width="0.4" stroke-linejoin="round"/>
<path d="M469.6 145L469 145.6L469 146.4L469.6 147L470.4 147L471 146.4L471 145.6L470.4 145Z" fill="#111" stroke="#000" stroke-width="0.35" stroke-linejoin="round"/>
<path d="M350.4 250.9L347.8 250.3L346.4 250.7L344 252.3L342.4 255.3L340.2 256.5L336.6 256.7L334.8 257.1L330.2 257.1L327.4 258.5L326.4 261.1L326 263.9L326 265.9L327 267.9L330 269.1L338.6 269.1L338.8 269.3L341.4 269.3L345.6 268.1L348.6 265.1L350.2 261.3L351.4 257.3L351.8 253.1Z" fill="#b8b8b8" stroke="#000" stroke-width="0.85" stroke-linejoin="round"/>
<path d="M350 251.1L349.2 250.7L347.6 250.5L346.6 250.9L344.6 252.5L343.4 255.3L342.8 255.9L340.2 257.3L336.4 257.7L330.6 257.7L327.8 259.1L326.8 262.1L326.6 265.5L327.6 267.5L330.8 268.7L335.2 268.7L335.4 268.5L341 268.7L345.4 267.5L348 264.9L350.8 256.9L351.4 253.5Z" fill="#ececec" stroke="#222" stroke-width="0.4" stroke-linejoin="round"/>
<path d="M349.8 251.3L348.4 250.9L346.8 251.1L344.8 252.9L344 255.7L343 256.7L341 257.7L337 258.3L331.2 258.3L328.4 259.5L327.4 261.9L327 264.5L327.2 265.7L328.2 267.3L330.8 268.3L335.2 268.3L337 267.9L340.8 268.1L345.2 267.1L347.6 264.7L348.4 262.7L349 259.5L350.4 256.7L351 253.5Z" fill="#9a9a9a" stroke="#000" stroke-width="0.45" stroke-linejoin="round"/>
<path d="M349.8 251.7L349 251.3L347.4 251.1L346.2 251.9L345.2 253.1L344.6 256.3L343.6 257.3L342.4 257.9L338.8 258.9L336.8 258.9L336.6 259.1L332 258.9L330.8 259.1L329.2 259.9L327.8 262.7L327.6 264.7L328.4 266.7L331 267.9L333.2 268.1L336 267.7L337.8 267.1L342.6 267.3L344.6 266.9L347 264.7L347.6 263.5L348 260.5L348.6 258.5L349.6 257.1L350.4 255.3L350.6 253.3Z" fill="#dcdcdc" stroke="#222" stroke-width="0.4" stroke-linejoin="round"/>
<path d="M349.8 252.1L349 251.5L347.8 251.3L347 251.5L345.6 253.3L345.2 256.7L344 257.9L338.4 259.7L331.4 259.5L329.6 260.3L328.6 261.9L328.2 263.9L328.2 265.1L328.8 266.3L331.2 267.5L334.8 267.5L337.8 266.5L343.4 266.7L345 266.1L346.6 264.5L347 263.7L347.6 258.7L349.8 255.7L350.2 254.3L350.2 253.1Z" fill="#8a8a8a" stroke="#000" stroke-width="0.45" stroke-linejoin="round"/>
<path d="M346.8 261.3L345.6 259.9L344.4 259.3L343.2 259.1L341.6 259.3L340.4 259.9L338.4 261.7L337.6 261.7L335 260.1L331.2 260.1L330 260.7L329 262.3L328.8 265.1L329.4 266.1L331.4 267.1L334.6 267.1L337.4 266.1L338.2 265.3L339.2 265.3L340.6 266.3L344 266.1L344.8 265.7L346.4 263.9Z" fill="#cccccc" stroke="#222" stroke-width="0.4" stroke-linejoin="round"/>
<path d="M347.8 251.5L347.2 251.7L346.4 252.5L345.8 253.9L346 255.9L347.4 256.9L348.2 256.9L349.2 255.9L349.8 254.5L349.6 252.5L348.8 251.7Z" fill="#cccccc" stroke="#222" stroke-width="0.4" stroke-linejoin="round"/>
<path d="M329.4 262.7L329.2 263.3L329.4 265.3L330.2 266.1L331.6 266.7L333.2 266.9L335.2 266.5L336.4 265.7L337 264.5L337 263.3L336.6 262.5L335.4 261.3L334 260.7L331.4 260.9L330.6 261.3Z" fill="#707070" stroke="#000" stroke-width="0.45" stroke-linejoin="round"/>
<path d="M342 260.1L340.8 260.7L339.8 261.9L339.6 263.9L341.4 265.7L342 265.9L343.8 265.7L345.6 264.3L346.2 263.1L346.2 262.3L345.6 261.1L344 260.1Z" fill="#707070" stroke="#000" stroke-width="0.45" stroke-linejoin="round"/>
<path d="M347.6 251.9L346.4 253.3L346.2 254.9L346.8 255.7L347.6 256.1L348.4 256.1L349.2 255.1L349.6 253.7L348.8 252.1Z" fill="#707070" stroke="#000" stroke-width="0.45" stroke-linejoin="round"/>
<path d="M330.2 262.7L330 264.9L331 266.1L333.6 266.5L335 266.1L335.8 265.3L336.2 264.3L335.8 262.7L334.8 261.7L333.8 261.3L331.6 261.5Z" fill="#bcbcbc" stroke="#222" stroke-width="0.4" stroke-linejoin="round"/>
<path d="M342.4 260.7L340.8 261.7L340.4 262.5L340.4 263.5L340.8 264.3L341.8 265.1L343.6 265.3L344.2 265.1L345.2 264.1L345.4 262.3L345 261.5L344.2 260.9Z" fill="#bcbcbc" stroke="#222" stroke-width="0.4" stroke-linejoin="round"/>
<path d="M347.8 252.3L346.8 253.3L346.6 254.5L347 255.1L348.2 255.5L349 254.7L349.2 253.3L348.6 252.5Z" fill="#bcbcbc" stroke="#222" stroke-width="0.4" stroke-linejoin="round"/>
<path d="M332.2 261.9L331 262.7L330.6 263.5L330.6 264.5L331.4 265.7L332.2 266.1L333.8 266.1L335.2 265.1L335.4 263.3L334.6 262.3L333.8 261.9Z" fill="#4a4a4a" stroke="#000" stroke-width="0.4" stroke-linejoin="round"/>
<path d="M342.8 261.3L341.4 262.1L341.2 263.5L341.8 264.3L343.2 264.7L344.6 263.9L344.8 262.5L344.2 261.7Z" fill="#4a4a4a" stroke="#000" stroke-width="0.4" stroke-linejoin="round"/>
<path d="M348.4 252.9L347.6 252.9L347 253.9L348 254.9L348.8 254.1L348.8 253.3Z" fill="#4a4a4a" stroke="#000" stroke-width="0.4" stroke-linejoin="round"/>
<path d="M332.4 262.5L331.4 263.3L331.2 264.3L332 265.3L333.6 265.5L334.6 264.7L334.8 263.7L334 262.7Z" fill="#9a9a9a" stroke="#222" stroke-width="0.4" stroke-linejoin="round"/>
<path d="M342.8 262.1L342.2 262.5L342 263.3L343.2 263.9L343.8 263.5L344 262.9L343.6 262.3Z" fill="#9a9a9a" stroke="#222" stroke-width="0.4" stroke-linejoin="round"/>
<path d="M347.8 253.5L347.8 253.9L348.2 253.9L348.2 253.5Z" fill="#9a9a9a" stroke="#222" stroke-width="0.4" stroke-linejoin="round"/>
<path d="M332.4 263.1L331.8 263.9L332 264.5L332.4 264.9L333.6 264.9L334.2 264.1L334 263.5L333.6 263.1Z" fill="#111" stroke="#000" stroke-width="0.35" stroke-linejoin="round"/>
<path d="M391.5 247.5L388.5 252.5L387.9 253.1L385.5 261.7L385.1 267.3L386.7 270.7L389.9 271.7L395.7 271.7L398.1 271.3L399.7 270.5L401.9 268.7L403.3 265.9L403.7 262.7L402.3 262.1L399.1 259.5L396.3 253.9L393.3 250.3Z" fill="#b8b8b8" stroke="#000" stroke-width="0.85" stroke-linejoin="round"/>
<path d="M391.5 248.9L389.3 252.3L387.5 256.9L386.3 261.9L386.1 265.9L385.9 266.1L386.1 267.7L387.5 270.3L390.3 271.3L395.3 271.1L396.1 270.7L398.7 270.3L401.3 268.3L402.7 265.5L402.9 263.1L401.9 262.7L398.5 259.9L396.3 255.5L394.5 252.7Z" fill="#ececec" stroke="#222" stroke-width="0.4" stroke-linejoin="round"/>
<path d="M391.5 250.3L389.3 253.9L387.7 258.3L386.9 262.1L386.5 266.9L387.7 269.7L390.3 270.9L393.5 270.9L398.5 269.5L400.5 267.9L401.9 265.5L402.1 263.5L401.1 263.1L398.1 260.7L396.9 258.1L393.9 253.1L393.3 252.7Z" fill="#9a9a9a" stroke="#000" stroke-width="0.45" stroke-linejoin="round"/>
<path d="M391.5 252.1L389.3 255.9L388.1 259.1L387.5 262.3L387.3 267.1L387.9 268.9L388.5 269.5L390.3 270.5L392.5 270.7L398.1 268.7L400.1 266.9L401.1 264.9L401.1 264.1L397.5 261.3L394.9 256.1L392.5 252.9Z" fill="#dcdcdc" stroke="#222" stroke-width="0.4" stroke-linejoin="round"/>
<path d="M390.9 254.9L390.5 255.1L389.5 256.9L388.5 259.5L387.7 266.5L388.3 268.5L389.3 269.5L391.1 270.3L392.5 270.3L393.9 269.9L396.5 268.3L396.7 266.1L396.3 264.3L396.3 260.3L395.1 257.7L393.9 255.9L392.7 254.9Z" fill="#8a8a8a" stroke="#000" stroke-width="0.45" stroke-linejoin="round"/>
<path d="M391.1 256.7L389.7 257.7L389.1 259.1L388.7 260.9L388.7 264.1L388.3 265.5L388.3 266.9L388.7 268.3L389.5 269.1L391.1 269.9L392.5 269.9L394.7 268.9L395.3 267.7L395.3 265.5L394.9 264.1L394.9 259.7L394.1 257.9L393.3 257.1L392.5 256.7Z" fill="#cccccc" stroke="#222" stroke-width="0.4" stroke-linejoin="round"/>
<path d="M391.1 257.7L389.9 258.7L389.3 260.3L389.3 264.9L388.9 267.1L389.3 268.3L389.9 268.9L391.1 269.5L392.5 269.5L394.3 268.5L394.7 267.1L394.3 264.9L394.3 260.3L393.7 258.7L392.9 257.9Z" fill="#707070" stroke="#000" stroke-width="0.45" stroke-linejoin="round"/>
<path d="M391.7 258.3L391.1 258.5L390.3 259.3L389.9 260.3L389.9 264.7L389.5 265.9L389.5 267.5L390.5 268.9L392.5 269.1L393.5 268.7L394.1 267.5L394.1 265.9L393.7 264.7L393.7 260.3L393.3 259.3L392.5 258.5Z" fill="#bcbcbc" stroke="#222" stroke-width="0.4" stroke-linejoin="round"/>
<path d="M391.5 259.1L390.9 259.5L390.3 261.1L390.7 263.5L389.9 266.7L390.1 267.7L390.9 268.7L392.7 268.7L393.3 268.1L393.7 266.7L392.9 263.5L393.3 261.1L392.7 259.5L392.1 259.1Z" fill="#4a4a4a" stroke="#000" stroke-width="0.4" stroke-linejoin="round"/>
<path d="M391.5 260.1L391.1 260.5L391.1 262.3L391.5 263.1L391.5 264.1L390.5 266.1L390.5 267.3L391.1 268.1L392.1 268.3L393.1 267.3L393.1 266.1L392.1 264.1L392.1 263.1L392.5 262.3L392.5 260.5L392.1 260.1Z" fill="#9a9a9a" stroke="#222" stroke-width="0.4" stroke-linejoin="round"/>
<path d="M391.7 265.3L391.3 265.5L390.9 266.9L391.5 267.7L392.1 267.7L392.7 266.5L392.3 265.5Z" fill="#111" stroke="#000" stroke-width="0.35" stroke-linejoin="round"/>
<path d="M471.2 255.2L468 256.2L466 258.2L465.4 262.4L465.4 266.6L465.2 266.8L465.4 276.2L467.6 278.6L471.2 279L478.8 276.2L482.6 275.4L485.8 273.4L484 271.6L478.4 269.8L476 268.4L475.6 260L474 256.6Z" fill="#b8b8b8" stroke="#000" stroke-width="0.85" stroke-linejoin="round"/>
<path d="M471 255.6L468.2 256.6L466.6 258.4L466 262.4L465.8 272L465.6 272.2L466 276L467.8 278L471.2 278.4L478.6 275.4L482.4 274.6L484.4 273.4L483.4 272.2L478.2 270.6L476 269.4L475.4 268.8L475 260.2L473.6 257Z" fill="#ececec" stroke="#222" stroke-width="0.4" stroke-linejoin="round"/>
<path d="M471.2 256L468.6 256.8L467.2 258.2L466.8 259.2L466.4 262.6L466.6 268.6L466 272.2L466.2 275.4L468 277.6L470 278L472 277.8L477 275.2L481.8 274L483.2 273.2L482.8 272.8L477.6 271.2L475 269.4L474.6 268.6L474.6 264.4L474.8 264.2L474.6 260.4L473.4 257.4Z" fill="#9a9a9a" stroke="#000" stroke-width="0.45" stroke-linejoin="round"/>
<path d="M470.4 256.4L468.8 257L468 257.8L467.2 259.4L466.8 263L467.2 265.8L467.2 269.4L466.4 272.2L466.6 275.2L468.2 277.2L471.2 277.6L473.2 276.8L477.2 274.2L481.2 273.2L477.4 272L475.4 270.8L474.4 269.8L474 269L474.2 260.6L473 257.6L471.2 256.4Z" fill="#dcdcdc" stroke="#222" stroke-width="0.4" stroke-linejoin="round"/>
<path d="M470.4 256.8L469 257.4L468 258.6L467.6 259.6L467.4 264.8L467.8 266.4L467.8 269.4L467 271.6L466.8 273.2L467 275L468.2 276.6L469 277L471 277.2L473 276.4L476 274.2L476.2 273.8L476.6 273.8L476.6 272.4L475.4 271.6L473.4 269.2L473.4 265.8L473.8 264L473.6 260.2L472.8 258.2L471.8 257.2Z" fill="#8a8a8a" stroke="#000" stroke-width="0.45" stroke-linejoin="round"/>
<path d="M470.2 257.4L469 258L468.4 258.8L467.8 261L467.8 264.4L468.4 267.2L469 268.6L467.4 271.8L467.4 274.8L468.4 276.2L469.2 276.6L470.8 276.8L472.8 276L474.6 274.4L474.6 272.4L473.8 270.8L472.4 269.4L472 268.6L472.8 266.8L473.2 265L473.2 260.4L472.4 258.4L471 257.4Z" fill="#cccccc" stroke="#222" stroke-width="0.4" stroke-linejoin="round"/>
<path d="M469.8 270L468.2 271L467.6 273.6L467.8 274.8L468.8 276L470.8 276.4L472 276L473.6 274.8L473.8 272.6L473.2 271.4L471.8 270.2Z" fill="#707070" stroke="#000" stroke-width="0.45" stroke-linejoin="round"/>
<path d="M470 258L468.8 259L468.4 259.8L468.2 264.2L468.4 265.2L469 266.2L470.2 267L470.8 267L472 266.2L472.8 264.6L472.8 260.4L471.8 258.4L471.2 258Z" fill="#707070" stroke="#000" stroke-width="0.45" stroke-linejoin="round"/>
<path d="M469.8 270.8L468.2 272L468 274L468.2 274.8L469.2 275.8L471 276L472.8 275L473.2 274.2L473.2 272.8L472 271.2L471.2 270.8Z" fill="#bcbcbc" stroke="#222" stroke-width="0.4" stroke-linejoin="round"/>
<path d="M470.4 258.4L469.8 258.6L468.8 259.8L468.6 263.8L469.8 265.6L470.8 265.8L471.8 265L472.4 263.8L472.6 261.2L471.8 259.2L471.2 258.6Z" fill="#bcbcbc" stroke="#222" stroke-width="0.4" stroke-linejoin="round"/>
<path d="M469.8 271.4L468.6 272.4L468.4 274.2L469.2 275.2L470.8 275.6L471.8 275.2L472.4 274.6L472.6 272.8L471.6 271.6Z" fill="#4a4a4a" stroke="#000" stroke-width="0.4" stroke-linejoin="round"/>
<path d="M470 259.4L469.2 260.6L469 262.6L469.6 264.2L470.6 264.8L471.4 264.2L471.8 263.4L472 261.4L471.4 259.8L471 259.4Z" fill="#4a4a4a" stroke="#000" stroke-width="0.4" stroke-linejoin="round"/>
<path d="M469.6 272.2L469 273L469.2 274.4L470.2 275L471.4 274.8L472 274L471.8 272.6L471 272Z" fill="#9a9a9a" stroke="#222" stroke-width="0.4" stroke-linejoin="round"/>
<path d="M470.2 260.6L469.8 261.2L469.8 262.8L470.2 263.4L470.8 263.4L471.2 262.8L471.2 261.2L470.8 260.6Z" fill="#9a9a9a" stroke="#222" stroke-width="0.4" stroke-linejoin="round"/>
<path d="M470 272.6L469.6 273L469.6 274L470 274.4L471 274.4L471.4 274L471.4 273L471 272.6Z" fill="#111" stroke="#000" stroke-width="0.35" stroke-linejoin="round"/>
<path d="M347.2 318.6L344.2 317.2L339.6 317.2L337.4 317.8L334.6 317.4L332.2 317.4L332 317.6L329.8 317.6L326 318.6L324 320.2L323.4 321L322.4 323.8L322.8 327L325 329.4L329.6 330.4L336.4 330.6L341 329.6L344.2 326.8L345.8 323.6Z" fill="#b8b8b8" stroke="#000" stroke-width="0.85" stroke-linejoin="round"/>
<path d="M346.2 319L343.4 317.8L339.8 317.8L337.6 318.4L335.8 318.2L335.4 318.4L334.6 318.2L329.4 318.4L326.4 319.2L324.2 321L323 324L323.4 326.8L325.2 328.8L330 330L331.6 329.8L335.8 330L336.6 329.6L340.6 329L343.2 327L344 326L345.2 323.6L346 320.8Z" fill="#ececec" stroke="#222" stroke-width="0.4" stroke-linejoin="round"/>
<path d="M345.4 319.4L343 318.4L340.2 318.2L337.2 319L332.6 318.8L332.4 319L329.8 319L327.2 319.6L324.8 321.2L323.8 323L323.4 324.2L323.8 326.6L325.8 328.6L330 329.6L335.2 329.4L338.2 328.6L340.4 328.4L343 326.6L343.6 325.8L344.8 323.4Z" fill="#9a9a9a" stroke="#000" stroke-width="0.45" stroke-linejoin="round"/>
<path d="M344.6 319.8L343.6 319.2L340.2 318.8L335.8 319.8L335.6 319.6L335.2 319.8L330.2 319.6L327.4 320.2L326.2 320.8L325 322L324 324.2L324.2 326.2L325.2 327.6L326 328.2L330 329.2L334.6 328.8L337.6 328L340 327.8L341.8 326.8L343.2 325.6L344.4 322.8Z" fill="#dcdcdc" stroke="#222" stroke-width="0.4" stroke-linejoin="round"/>
<path d="M344 320.2L343.4 319.8L341.6 319.4L339.4 319.4L336.2 320.4L330 320.2L328 320.6L325.6 322L324.6 324.2L324.6 325.6L324.8 326.2L326 327.6L328 328.4L330.2 328.8L333.6 328.4L337.2 327.4L339.8 327.2L342.4 325.8L343 325L343.8 323.2Z" fill="#8a8a8a" stroke="#000" stroke-width="0.45" stroke-linejoin="round"/>
<path d="M343.4 321L342.6 320.2L339.8 319.8L336.6 320.8L335.2 322L334.4 322L331 320.8L327.8 321.2L326 322.4L325.2 324L325.2 325.8L326.2 327.2L328.8 328.2L330.4 328.4L334.4 327.6L335.6 326.4L336.4 326L338.6 326.6L339.8 326.6L341.8 325.6L342.8 324.4L343.4 322.8Z" fill="#cccccc" stroke="#222" stroke-width="0.4" stroke-linejoin="round"/>
<path d="M325.8 323.8L325.6 325.4L326.8 327L328.8 327.8L330.2 328L333.2 327.4L334 326.6L334.8 325L334.6 323.8L333.6 322.8L332.2 322L330.6 321.6L327.8 322L326.8 322.6Z" fill="#707070" stroke="#000" stroke-width="0.45" stroke-linejoin="round"/>
<path d="M341.2 320.4L340.2 320.2L338 320.8L336.8 322.2L336.6 322.8L336.8 324.4L337.8 325.2L339.4 325.8L340.6 325.8L341.6 325.2L342.6 323.8L342.8 321.8L342.2 321Z" fill="#707070" stroke="#000" stroke-width="0.45" stroke-linejoin="round"/>
<path d="M327 323.4L326.4 324.6L326.4 325.4L327 326.6L328.2 327.2L329.8 327.6L331.8 327.4L332.8 326.8L333.6 325.6L333.4 323.8L331.8 322.6L329.8 322.2L328.2 322.6Z" fill="#bcbcbc" stroke="#222" stroke-width="0.4" stroke-linejoin="round"/>
<path d="M338.8 321.2L337.8 322.2L337.6 322.8L337.8 324L339.2 325L340.6 325L341.4 324.6L342.2 323.4L342 322L340.6 321Z" fill="#bcbcbc" stroke="#222" stroke-width="0.4" stroke-linejoin="round"/>
<path d="M328 323.4L327.2 324.4L327.2 325.6L328 326.6L328.8 327L330.4 327.2L332 326.6L332.6 326L332.8 324.4L332 323.4L330.4 322.8L329.6 322.8Z" fill="#4a4a4a" stroke="#000" stroke-width="0.4" stroke-linejoin="round"/>
<path d="M338.8 322.2L338.6 323.4L339.4 324.2L340.6 324.2L341.4 323.2L341.2 322.4L340.6 321.8L339.4 321.8Z" fill="#4a4a4a" stroke="#000" stroke-width="0.4" stroke-linejoin="round"/>
<path d="M328.2 324.2L328 325.4L329 326.4L330.4 326.6L331.4 326.2L332 325.6L332 324.4L331 323.6L329.6 323.4Z" fill="#9a9a9a" stroke="#222" stroke-width="0.4" stroke-linejoin="round"/>
<path d="M328.6 325L329.6 326L330.8 325.8L331.4 325L330.4 324L329.2 324.2Z" fill="#111" stroke="#000" stroke-width="0.35" stroke-linejoin="round"/>
<path d="M392.9 314.1L390.1 315.1L388.7 317.9L388.3 321.9L388.5 331.1L388.9 332.5L390.5 334.5L395.7 334.5L397.7 332.1L398.1 328.9L397.9 318.1L396.1 315.1Z" fill="#b8b8b8" stroke="#000" stroke-width="0.85" stroke-linejoin="round"/>
<path d="M393.1 314.5L390.5 315.5L389.3 317.9L389.1 321.9L388.9 322.1L388.9 329.3L389.3 331.9L390.7 333.9L392.3 334.1L395.5 333.9L397.1 331.7L397.5 328.7L397.3 318.5L395.7 315.5Z" fill="#ececec" stroke="#222" stroke-width="0.4" stroke-linejoin="round"/>
<path d="M392.5 315.1L390.9 315.7L389.7 318.1L389.1 328.3L389.7 331.7L391.1 333.5L393.5 333.7L395.1 333.5L396.5 331.7L396.9 330.5L397.1 328.5L396.9 318.9L395.5 315.9L393.5 315.1Z" fill="#9a9a9a" stroke="#000" stroke-width="0.45" stroke-linejoin="round"/>
<path d="M393.1 315.3L391.1 316.1L390.1 318.1L389.9 319.3L389.9 324.5L389.5 328.5L390.1 331.3L390.7 332.3L391.7 333.1L394.9 332.9L396.1 331.3L396.7 328.3L396.5 324.3L396.3 324.1L396.3 322.1L396.5 321.9L396.3 318.5L395.3 316.5Z" fill="#dcdcdc" stroke="#222" stroke-width="0.4" stroke-linejoin="round"/>
<path d="M392.7 315.9L391.3 316.7L390.3 319.1L390.3 324.9L389.9 328.5L390.5 331.1L391.3 332.3L392.1 332.7L393.9 332.7L394.5 332.5L395.5 331.5L396.1 329.7L396.3 327.3L395.9 324.9L395.9 318.7L394.7 316.5L393.5 315.9Z" fill="#8a8a8a" stroke="#000" stroke-width="0.45" stroke-linejoin="round"/>
<path d="M393.7 316.5L392.5 316.5L391.7 316.9L390.9 318.3L390.7 325.1L390.3 326.7L390.3 328.7L390.7 330.5L391.9 332.1L392.9 332.3L394.1 332.1L394.9 331.5L395.5 330.3L395.9 328.3L395.5 325.3L395.5 318.9L394.9 317.5Z" fill="#cccccc" stroke="#222" stroke-width="0.4" stroke-linejoin="round"/>
<path d="M392.7 316.9L391.5 317.9L391.1 318.9L391.1 324.9L390.7 326.3L390.7 328.9L391.1 330.5L392.1 331.7L393.9 331.7L394.7 331.1L395.5 328.5L395.5 326.7L395.1 325.3L395.1 318.9L393.9 317.1Z" fill="#707070" stroke="#000" stroke-width="0.45" stroke-linejoin="round"/>
<path d="M393.1 317.3L392.5 317.5L391.5 318.9L391.3 320.7L391.7 324.3L391.3 325.1L390.9 327.7L391.5 330.5L392.7 331.3L393.9 331.1L394.5 330.5L395.1 328.9L395.1 326.3L394.3 324.3L394.3 322.7L394.7 321.5L394.7 319.1L394.3 318.1Z" fill="#bcbcbc" stroke="#222" stroke-width="0.4" stroke-linejoin="round"/>
<path d="M392.9 318.1L391.9 319.1L391.9 321.3L392.9 323.7L391.3 326.9L391.3 328.7L392.1 330.3L393.5 330.5L394.5 329.5L394.7 326.9L393.1 323.7L394.1 321.3L394.1 319.1L393.5 318.3Z" fill="#4a4a4a" stroke="#000" stroke-width="0.4" stroke-linejoin="round"/>
<path d="M392.9 325.5L391.9 326.7L391.7 328.3L391.9 329.1L392.7 329.9L393.3 329.9L394.1 329.1L394.3 327.3L393.5 325.7Z" fill="#9a9a9a" stroke="#222" stroke-width="0.4" stroke-linejoin="round"/>
<path d="M392.7 319.5L392.5 320.3L392.7 320.9L393.1 321.1L393.5 320.1L393.3 319.5Z" fill="#9a9a9a" stroke="#222" stroke-width="0.4" stroke-linejoin="round"/>
<path d="M392.7 326.5L392.3 327.1L392.3 328.7L392.7 329.1L393.3 329.1L393.7 328.7L393.7 327.1L393.3 326.5Z" fill="#111" stroke="#000" stroke-width="0.35" stroke-linejoin="round"/>
<path d="M470.6 312.1L468.6 314.5L466.8 319.7L465.2 328.5L465.6 333.1L468 336.1L471.6 336.9L481.8 335.1L484.2 333.9L484.6 330.5L482 328.1L478.8 326.5L476.8 326.3L476 325.9L475.4 317.1L473.2 313.9Z" fill="#b8b8b8" stroke="#000" stroke-width="0.85" stroke-linejoin="round"/>
<path d="M470.6 313.1L469 315.1L467.4 319.9L466.6 325.9L465.8 328.9L466.2 332.9L468.2 335.5L471.6 336.3L475.8 335.7L478.2 334.9L481.6 334.3L483.6 333.3L483.8 330.9L481.4 328.7L478.6 327.3L477 327.1L475.4 326.3L475.2 319.9L474.8 317.3L472.6 314.1Z" fill="#ececec" stroke="#222" stroke-width="0.4" stroke-linejoin="round"/>
<path d="M470.8 313.9L469.6 315.1L467.8 320.1L467.4 325.1L466.4 328.9L466.4 331.7L467 333.3L468.6 335.1L472.2 335.9L478.4 334.1L481 333.7L482.6 332.9L483 331.1L481.2 329.5L478.2 327.9L476.6 327.7L475 326.5L474.8 326.1L474.8 319.3L474.4 317.5L472.2 314.5Z" fill="#9a9a9a" stroke="#000" stroke-width="0.45" stroke-linejoin="round"/>
<path d="M471 314.7L470 315.7L468.4 319.5L468 325.7L467 328.9L467 331.9L467.8 333.5L469.2 334.9L470.8 335.3L473 335.3L478.2 333.3L480.6 332.9L481.8 332.3L482.2 331.5L480.8 330.3L477.8 328.7L476.2 328.3L474.6 327.1L474.2 326.1L474.4 319.3L474 317.7L473.4 316.7L471.8 315.1Z" fill="#dcdcdc" stroke="#222" stroke-width="0.4" stroke-linejoin="round"/>
<path d="M471 315.5L470 316.7L468.8 319.7L468.6 326.1L467.4 329.3L467.4 331.7L468.2 333.3L469.2 334.3L471 334.9L472.6 334.9L477.4 332.9L477.6 329.9L477.2 329.3L475.4 328.5L473.8 326.7L473.6 325.3L474 323.3L474 319.5L473.2 317.3L471.6 315.7Z" fill="#8a8a8a" stroke="#000" stroke-width="0.45" stroke-linejoin="round"/>
<path d="M471 316.3L470 317.7L469.2 319.7L469 323.3L469.8 326.1L468.2 328.5L467.8 331.3L468.2 332.5L469.4 333.9L471.2 334.5L472.4 334.5L475.2 333.1L475.6 332.1L475.6 329.9L475.2 328.9L473.6 327.5L473 326.1L473.6 322.9L473.6 319.5L473.2 318.1L472.2 316.9Z" fill="#cccccc" stroke="#222" stroke-width="0.4" stroke-linejoin="round"/>
<path d="M471.2 327.1L470 327.7L468.6 329.1L468.2 331.1L468.6 332.3L469.8 333.7L472.2 334.1L473.8 333.5L474.6 332.5L474.8 330.1L474.4 329.1L472.4 327.3Z" fill="#707070" stroke="#000" stroke-width="0.45" stroke-linejoin="round"/>
<path d="M471 317.3L470.2 318.3L469.6 319.7L469.4 322.5L470.2 324.3L470.8 324.9L471.8 325.1L472.8 324.3L473 323.7L473.2 319.5L472.6 318.1L471.8 317.3Z" fill="#707070" stroke="#000" stroke-width="0.45" stroke-linejoin="round"/>
<path d="M471 328.1L469.8 328.7L469 329.7L468.8 331.7L470 333.3L471 333.7L472.2 333.7L473.8 332.5L474.2 331.7L474.2 330.3L473.2 328.7L472 328.1Z" fill="#bcbcbc" stroke="#222" stroke-width="0.4" stroke-linejoin="round"/>
<path d="M471 318.3L470 319.7L469.8 321.3L470.4 323.1L471.6 323.9L472.6 323.1L473 321.1L472.8 319.5L472 318.3Z" fill="#bcbcbc" stroke="#222" stroke-width="0.4" stroke-linejoin="round"/>
<path d="M471.2 328.7L470 329.3L469.6 329.9L469.4 331.7L470.4 332.9L472.2 333.1L473.4 332.1L473.6 330.3L473 329.3L472.4 328.9Z" fill="#4a4a4a" stroke="#000" stroke-width="0.4" stroke-linejoin="round"/>
<path d="M471.2 319.3L470.6 320.1L470.6 321.9L471.2 322.7L471.8 322.7L472.4 321.9L472.4 320.1L471.8 319.3Z" fill="#4a4a4a" stroke="#000" stroke-width="0.4" stroke-linejoin="round"/>
<path d="M471.4 329.3L470.8 329.5L470 330.3L470 331.5L470.6 332.3L472 332.5L473 331.5L473 330.3L472.2 329.5Z" fill="#9a9a9a" stroke="#222" stroke-width="0.4" stroke-linejoin="round"/>
<path d="M471.4 329.9L470.6 330.5L470.6 331.5L471 331.9L472 331.9L472.4 331.5L472.4 330.5Z" fill="#111" stroke="#000" stroke-width="0.35" stroke-linejoin="round"/>
<path d="M351.3 450.7L349.3 448.9L348.1 447.1L343.1 447.9L328.7 448.7L325.1 449.5L322.5 452.1L321.9 456.3L323.1 459.5L327.1 461.7L332.7 462.5L343.3 460.7L346.7 458.9L350.3 453.5Z" fill="#b8b8b8" stroke="#000" stroke-width="0.85" stroke-linejoin="round"/>
<path d="M350.3 450.9L348.7 449.5L347.7 448.1L343.1 448.7L338.1 448.7L335.1 449.3L328.1 449.5L325.5 450.1L323.1 452.5L322.5 456.3L323.5 458.9L324.7 459.9L327.1 461.1L332.3 461.9L336.5 460.9L337.1 461.1L339.7 460.5L343.1 460.1L346.1 458.5L349.3 453.7Z" fill="#ececec" stroke="#222" stroke-width="0.4" stroke-linejoin="round"/>
<path d="M349.5 451.3L347.3 448.9L327.3 450.3L325.5 450.9L323.7 452.7L323.3 453.5L322.9 455.9L323.9 458.7L324.9 459.5L327.3 460.7L329.9 461.1L332.7 461.1L336.3 460.3L341.7 459.9L343.1 459.5L345.7 458.1L348.5 453.5Z" fill="#9a9a9a" stroke="#000" stroke-width="0.45" stroke-linejoin="round"/>
<path d="M348.5 451.5L346.9 449.7L343.3 450.1L342.5 449.9L337.7 450.1L335.3 450.7L327.7 450.9L326.1 451.3L324.1 453.1L323.5 456.3L324.3 458.3L325.1 459.1L326.9 460.1L328.9 460.5L332.5 460.5L335.3 459.7L341.7 459.3L344.5 458.1L345.5 457.3Z" fill="#dcdcdc" stroke="#222" stroke-width="0.4" stroke-linejoin="round"/>
<path d="M347.1 452.5L345.5 450.7L340.3 450.5L340.1 450.7L337.7 450.7L334.1 451.5L328.5 451.3L326.3 451.9L324.7 453.3L324.1 454.9L324.1 456.7L324.9 458.3L326.7 459.5L327.9 459.9L330.9 460.1L332.5 459.9L334.9 459.1L341.1 458.9L342.7 458.5L344.9 457.1Z" fill="#8a8a8a" stroke="#000" stroke-width="0.45" stroke-linejoin="round"/>
<path d="M345.1 454.3L344.7 453.3L343.3 451.9L341.1 451.1L338.1 451.3L334.5 453.3L333.7 453.3L330.5 451.9L328.1 451.9L326.3 452.5L325.1 453.7L324.5 456.1L325.1 457.7L326.9 459.1L328.3 459.5L331.7 459.5L332.7 459.1L334.5 457.7L335.7 457.7L337.5 458.5L340.5 458.5L342.3 458.1L344.5 456.7L345.1 455.5Z" fill="#cccccc" stroke="#222" stroke-width="0.4" stroke-linejoin="round"/>
<path d="M325.5 454.1L325.1 454.9L325.1 456.5L325.5 457.5L326.7 458.5L328.3 459.1L331.3 458.9L333.1 457.3L333.7 455.9L333.3 454.7L332.3 453.7L330.1 452.7L327.9 452.7L326.5 453.3Z" fill="#707070" stroke="#000" stroke-width="0.45" stroke-linejoin="round"/>
<path d="M335.7 454.5L335.9 456.1L336.9 457.1L338.7 457.9L341.9 457.7L342.9 457.1L343.9 455.7L343.9 454.3L343.5 453.5L342.3 452.5L341.3 452.1L338.1 452.3L337.3 452.7Z" fill="#707070" stroke="#000" stroke-width="0.45" stroke-linejoin="round"/>
<path d="M326.3 454.3L325.7 455.3L325.7 456.7L326.3 457.7L328.1 458.7L330.5 458.5L331.3 458.1L332.5 456.5L332.3 454.9L330.5 453.5L328.1 453.3Z" fill="#bcbcbc" stroke="#222" stroke-width="0.4" stroke-linejoin="round"/>
<path d="M337.1 454.1L336.9 454.7L337.1 455.9L338.7 457.1L339.5 457.3L341.3 457.1L342.1 456.7L342.9 455.7L342.7 453.9L341.3 452.9L340.5 452.7L338.7 452.9Z" fill="#bcbcbc" stroke="#222" stroke-width="0.4" stroke-linejoin="round"/>
<path d="M326.7 454.9L326.3 455.9L326.5 456.7L327.3 457.7L328.1 458.1L329.9 458.1L330.7 457.7L331.7 456.5L331.5 455.1L329.9 453.9L328.1 453.9Z" fill="#4a4a4a" stroke="#000" stroke-width="0.4" stroke-linejoin="round"/>
<path d="M337.9 454.7L338.1 455.7L339.3 456.5L340.7 456.5L341.5 456.1L342.1 455.1L341.9 454.3L340.7 453.5L339.3 453.5L338.5 453.9Z" fill="#4a4a4a" stroke="#000" stroke-width="0.4" stroke-linejoin="round"/>
<path d="M339.7 454.5L339.3 455.1L339.7 455.5L340.3 455.5L340.7 454.9L340.3 454.5Z" fill="#9a9a9a" stroke="#222" stroke-width="0.4" stroke-linejoin="round"/>
<path d="M327.1 455.5L327.1 456.5L328.3 457.5L329.7 457.5L330.5 457.1L330.9 456.5L330.7 455.1L329.7 454.5L328.3 454.5Z" fill="#9a9a9a" stroke="#222" stroke-width="0.4" stroke-linejoin="round"/>
<path d="M328.3 455.1L327.7 455.9L327.9 456.5L328.3 456.9L329.7 456.9L330.3 456.1L330.1 455.5L329.7 455.1Z" fill="#111" stroke="#000" stroke-width="0.35" stroke-linejoin="round"/>
<path d="M388.4 458.7L388.6 462.1L391 463.5L395.6 463.9L399.4 463.1L410.2 462.5L412.4 461.5L405.2 456.7L403 454.5L401 455.5L397 453.5L395.8 451.7L394 449.9L391.6 451.1L389.8 453.7Z" fill="#b8b8b8" stroke="#000" stroke-width="0.85" stroke-linejoin="round"/>
<path d="M388.8 458.9L389 461.9L391.2 463.3L395.4 463.7L396 463.3L397.6 463.1L399.8 462.3L410 461.7L410.8 461.3L404.6 457.3L402.8 455.5L401.4 456.3L400.8 456.3L396.6 454.1L393.8 450.9L392.2 451.7L390.4 454.1Z" fill="#ececec" stroke="#222" stroke-width="0.4" stroke-linejoin="round"/>
<path d="M389.2 459.1L389.2 461.1L389.8 462.1L391.4 463.1L394.4 463.5L396.4 463.1L399.4 461.7L402.6 461.3L408.6 461.1L408.8 460.9L404.4 458.1L402.8 456.5L401 457.1L396.4 454.9L393.8 451.9L392.8 452.3L391 454.5Z" fill="#9a9a9a" stroke="#000" stroke-width="0.45" stroke-linejoin="round"/>
<path d="M389.4 459.3L389.6 461.5L391 462.7L394.6 463.3L397.2 462.3L399.2 460.9L406.2 460.3L404 458.9L402.6 457.5L401.6 457.9L400 457.7L396 455.5L394.8 454.5L393.6 452.9L392.8 453.5L391.4 455.3Z" fill="#dcdcdc" stroke="#222" stroke-width="0.4" stroke-linejoin="round"/>
<path d="M393.2 454.3L390.4 457.9L389.8 459.5L389.8 460.9L390 461.5L391.4 462.7L394.6 463.1L396.2 462.5L398.4 460.5L399.4 460.1L399.4 459.3L398.6 457.7L395.4 455.9L393.6 454.3Z" fill="#8a8a8a" stroke="#000" stroke-width="0.45" stroke-linejoin="round"/>
<path d="M392.4 456.3L391.2 457.5L390.4 458.9L390.2 460.9L390.8 461.9L391.6 462.5L395 462.7L396 462.1L397.4 460.5L397.2 458.7L395.6 456.9L394.2 456.3Z" fill="#cccccc" stroke="#222" stroke-width="0.4" stroke-linejoin="round"/>
<path d="M391.8 457.5L390.6 459.5L390.6 460.9L391.6 462.1L392.4 462.5L394.4 462.5L396.2 461.3L396.6 460.7L396.6 459.5L396.2 458.7L395 457.5L393.8 457.1L392.8 457.1Z" fill="#707070" stroke="#000" stroke-width="0.45" stroke-linejoin="round"/>
<path d="M393.2 457.7L392 458.1L391.4 458.7L391 459.5L391 460.7L392 461.9L393.6 462.3L395.2 461.7L396 460.7L396 459.9L395.6 458.9L395 458.3Z" fill="#bcbcbc" stroke="#222" stroke-width="0.4" stroke-linejoin="round"/>
<path d="M392 458.7L391.4 459.5L391.4 460.7L392.4 461.7L393 461.9L394.4 461.7L395.4 460.9L395.4 459.9L394.6 458.7L393.6 458.3Z" fill="#4a4a4a" stroke="#000" stroke-width="0.4" stroke-linejoin="round"/>
<path d="M392 459.5L391.8 460.5L392.2 461.1L393.6 461.5L394.8 460.9L394.8 459.9L394.4 459.3L393 458.9Z" fill="#9a9a9a" stroke="#222" stroke-width="0.4" stroke-linejoin="round"/>
<path d="M392.4 459.9L392.4 460.7L393 461.1L393.6 461.1L394.2 460.7L394.2 459.9L393.6 459.5L393 459.5Z" fill="#111" stroke="#000" stroke-width="0.35" stroke-linejoin="round"/>
<path d="M469.4 446.8L467.6 450.4L467 455.2L466.8 462.2L468.2 466L471.8 466.8L480.4 466.4L482 465.6L484.2 465.6L485.8 464.4L486.8 464L492.6 462.8L494.2 461L493.4 459.4L492.8 459L490.6 458.6L487 457.4L484.4 456.2L482 456.8L479.6 457L478.2 454.6L477.6 450.8L476.4 447.4L473.6 444.4Z" fill="#b8b8b8" stroke="#000" stroke-width="0.85" stroke-linejoin="round"/>
<path d="M468.2 450.4L467.2 461.8L468.6 465.4L471.2 466.2L474 466.2L478.2 465.6L480.2 465.6L481.8 464.8L484 464.8L485.2 463.8L486.6 463.2L491.8 462.2L493.2 460.8L492.6 459.8L490.4 459.4L486.8 458.2L484.2 457L480.8 457.8L479 457.6L477.4 454.6L477 451.2L475.6 447.4L473.6 445.4L470.2 447Z" fill="#ececec" stroke="#222" stroke-width="0.4" stroke-linejoin="round"/>
<path d="M468.6 450.6L468.2 452.6L468 458.8L467.6 459.8L467.6 461.8L468.2 463.6L469.2 465.2L471.2 465.8L473.8 465.8L478.4 464.8L480 464.8L481.8 464L483.8 464L485 463L486.6 462.4L491.8 461.4L492.2 460.8L491.8 460.4L490.4 460.2L484 457.8L480.8 458.6L478.8 458.4L478 457.6L477.2 456L476.4 451.4L475 447.8L473.4 446.2L470.6 447.4Z" fill="#9a9a9a" stroke="#000" stroke-width="0.45" stroke-linejoin="round"/>
<path d="M469.2 450.4L468.6 452.6L468.6 457.4L468 459.8L468 461.6L468.6 463.4L469.6 464.8L471.4 465.4L473.4 465.4L476.4 464.4L479.6 464L481.4 463.2L483.4 463.2L485 462L489.8 461L489.8 460.8L485.8 459.6L484.2 458.8L481.2 459.4L479.2 459.4L478.2 459L477.6 458.4L476.4 456L476 452.2L475.4 450.2L474.6 448.4L473.4 447.2L471.2 447.8L470.2 448.8Z" fill="#dcdcdc" stroke="#222" stroke-width="0.4" stroke-linejoin="round"/>
<path d="M473.2 448L471.8 448.2L470.4 449.4L469.4 451L469 452.8L469 458L468.4 460.2L468.4 461.4L468.8 462.8L469.6 464.2L471.8 465L473.8 464.8L475.4 464L477.2 463.6L477.6 462.4L477.6 459.6L475.8 456L475.4 451.8L474 448.6Z" fill="#8a8a8a" stroke="#000" stroke-width="0.45" stroke-linejoin="round"/>
<path d="M472 448.8L470.6 450L469.8 451.2L469.4 453.2L469.6 456.8L468.8 461.4L470 464L472.6 464.6L475.2 463.6L476 461.6L476 460.2L475 456.6L475.2 453.6L474.6 451L473.4 449.2Z" fill="#cccccc" stroke="#222" stroke-width="0.4" stroke-linejoin="round"/>
<path d="M471.4 450L470.2 451.4L469.8 453L470 457.4L469.2 460.2L469.2 461.4L469.8 463L470.6 463.8L473.4 464L474.2 463.6L475.2 461.6L475.2 460.2L474.2 457.6L474.6 453L474.4 452L473.4 450.4L472.8 450Z" fill="#707070" stroke="#000" stroke-width="0.45" stroke-linejoin="round"/>
<path d="M471.6 450.8L470.6 451.6L470.2 453L470.2 455L470.8 456.8L469.8 459.2L469.6 461.6L470.6 463.4L472.4 463.8L473.4 463.4L474 462.8L474.6 461.4L474.6 460.2L473.2 456.8L474 453.6L473.8 452.4L472.8 451Z" fill="#bcbcbc" stroke="#222" stroke-width="0.4" stroke-linejoin="round"/>
<path d="M471.6 457.8L470.2 459.6L470 461.6L470.8 462.8L471.6 463.2L472.4 463.2L473.6 462.4L474 461.6L474 460.2L473.2 458.6L472.4 457.8Z" fill="#4a4a4a" stroke="#000" stroke-width="0.4" stroke-linejoin="round"/>
<path d="M471.6 451.8L470.8 452.8L470.8 454.6L471.2 455.4L471.8 456L472.2 456L473.2 454.6L473.2 452.8L472.4 451.8Z" fill="#4a4a4a" stroke="#000" stroke-width="0.4" stroke-linejoin="round"/>
<path d="M471.6 459L471 459.4L470.6 460.2L470.6 461.6L471 462.2L472.2 462.6L473.2 462L473.4 460.2L472.8 459.2Z" fill="#9a9a9a" stroke="#222" stroke-width="0.4" stroke-linejoin="round"/>
<path d="M471.8 453.2L471.8 454L472.2 454L472.2 453.2Z" fill="#9a9a9a" stroke="#222" stroke-width="0.4" stroke-linejoin="round"/>
<path d="M472 459.6L471 460.6L471.2 461.6L471.8 462L472.6 461.8L473 461L472.8 460.2Z" fill="#111" stroke="#000" stroke-width="0.35" stroke-linejoin="round"/>
<path d="M347.6 511.7L345.6 509.1L342.6 508.5L338.4 509.7L334.8 509.1L329.4 509.1L326.2 510.7L323.6 514.1L322.6 518.7L323.2 521.7L326 523.1L330.4 523.5L334 522.1L341.8 520.3L345.8 517.9L347.4 515.1Z" fill="#b8b8b8" stroke="#000" stroke-width="0.85" stroke-linejoin="round"/>
<path d="M346.8 512.1L345.2 509.9L342.6 509.3L338.8 510.3L332.4 509.9L332.2 509.7L329.2 509.9L326.6 511.1L324 514.3L323.2 518.9L323.6 520.7L324 521.3L326.4 522.5L329.8 522.9L333.6 521.5L341.6 519.9L345.2 517.7L346.6 515.1Z" fill="#ececec" stroke="#222" stroke-width="0.4" stroke-linejoin="round"/>
<path d="M346.2 512.5L344.8 510.5L343.2 510.1L340.6 510.3L338.6 510.9L329.6 510.3L326.8 511.5L324.6 514.1L324.2 514.9L323.8 517.1L324 517.3L323.8 519.1L324.4 520.7L326.2 521.7L328 522.1L330.4 522.1L334.8 520.5L338.2 520.3L341.8 519.5L344 518.1L345 517.1L346 514.9Z" fill="#9a9a9a" stroke="#000" stroke-width="0.45" stroke-linejoin="round"/>
<path d="M324.4 519.1L325 520.3L326.6 521.1L330 521.5L334.2 519.9L335.4 519.7L337.8 519.7L338 519.9L341.4 519.3L343 518.3L344.4 516.9L345.4 514.3L345.2 514.1L345.4 512.7L344.2 511.1L343.2 510.9L341 510.9L338.6 511.5L334.6 511.5L331 510.9L329 511.1L326.2 512.5L324.6 514.7Z" fill="#dcdcdc" stroke="#222" stroke-width="0.4" stroke-linejoin="round"/>
<path d="M325 519.1L325.6 519.9L328.4 520.9L330 520.9L334.8 519.1L336.6 519.3L340.8 519.1L342.6 518.1L344 516.5L344.6 514.7L344.6 512.7L343.8 511.9L342.6 511.5L339.6 511.7L338 512.1L334 512.1L331.2 511.5L328.8 511.7L327.2 512.3L325.2 514.5L324.8 515.7Z" fill="#8a8a8a" stroke="#000" stroke-width="0.45" stroke-linejoin="round"/>
<path d="M325.2 516.9L325.6 518.9L326 519.5L328 520.3L330.2 520.3L332 519.5L334.2 517.7L335 517.9L335.6 518.5L337.6 518.9L339.8 518.9L341.2 518.5L343.4 516.5L343.8 515.5L343.8 514.5L342.2 512.7L340.8 512.1L336.8 512.7L334.6 514.3L333.6 513.9L331.4 512.1L329.2 512.1L327.4 512.7L326 514.1L325.4 515.1Z" fill="#cccccc" stroke="#222" stroke-width="0.4" stroke-linejoin="round"/>
<path d="M342.2 513.9L340.2 512.9L338.8 512.9L337.6 513.3L336.2 514.5L335.8 515.3L335.8 516.7L336.2 517.5L337 518.3L338 518.5L339.8 518.5L341.4 517.9L343 516.1L343 515.3Z" fill="#707070" stroke="#000" stroke-width="0.45" stroke-linejoin="round"/>
<path d="M329.8 512.5L327.6 513.1L326.2 514.5L325.8 515.3L326 518.3L328.2 519.5L329.8 519.5L331.6 518.7L332.4 517.9L333 516.7L333 515.3L332.4 514.1L331.6 513.3Z" fill="#707070" stroke="#000" stroke-width="0.45" stroke-linejoin="round"/>
<path d="M337 514.9L336.8 516.7L338.2 518.1L340.6 517.9L342.2 516.5L342 514.9L340.4 513.7L338 513.9Z" fill="#bcbcbc" stroke="#222" stroke-width="0.4" stroke-linejoin="round"/>
<path d="M328.6 513.1L327.2 513.9L326.4 514.9L326.2 517.3L327.4 518.5L329.4 518.9L330.6 518.5L331.6 517.7L332.2 516.5L332.2 515.5L331.2 513.9L330.2 513.3Z" fill="#bcbcbc" stroke="#222" stroke-width="0.4" stroke-linejoin="round"/>
<path d="M337.6 515.3L337.6 516.7L338.4 517.5L339 517.7L340.4 517.5L341.4 516.5L341.2 515.1L340 514.3L338.4 514.5Z" fill="#4a4a4a" stroke="#000" stroke-width="0.4" stroke-linejoin="round"/>
<path d="M328.8 513.7L327.6 514.1L326.6 515.3L326.6 516.7L327.6 517.9L329.4 518.3L330.4 517.9L331.2 517.1L331.4 515.3L330.4 514.1Z" fill="#4a4a4a" stroke="#000" stroke-width="0.4" stroke-linejoin="round"/>
<path d="M339.2 515.1L338.6 515.5L338.4 516.1L338.8 516.7L339.8 516.9L340.4 516.5L340.6 515.9L340.2 515.3Z" fill="#9a9a9a" stroke="#222" stroke-width="0.4" stroke-linejoin="round"/>
<path d="M328.8 514.3L327.6 514.9L327.2 516.3L327.8 517.3L329.2 517.7L330.4 517.1L330.8 515.7L330.2 514.7Z" fill="#9a9a9a" stroke="#222" stroke-width="0.4" stroke-linejoin="round"/>
<path d="M328.8 514.9L328 515.5L327.8 516.1L328.4 516.9L329.2 517.1L330 516.5L330.2 515.9L329.6 515.1Z" fill="#111" stroke="#000" stroke-width="0.35" stroke-linejoin="round"/>
<path d="M390 511L388.8 516.6L388.4 520L389.2 522.4L391 525L394.8 526L401.4 525.8L401.6 525.6L406.2 525.4L410.6 524L412 521.2L410.6 518L408 515.6L402 513.6L399 509L396.2 508.2L393.8 508.4L392.4 509Z" fill="#b8b8b8" stroke="#000" stroke-width="0.85" stroke-linejoin="round"/>
<path d="M390.6 511.2L389 519.6L389.4 521.4L391.4 524.6L395 525.6L397 525.6L397.8 525.2L406 524.6L410 523.4L411.2 521L410 518.6L407.4 516.2L402.2 514.6L401.6 514.2L398.4 509.4L396 508.8L393.8 509L392.8 509.4Z" fill="#ececec" stroke="#222" stroke-width="0.4" stroke-linejoin="round"/>
<path d="M391 511.6L390.4 514L390.2 517.4L389.8 518.4L389.8 520.6L391.6 524.2L394.4 525.2L397 525.2L397.8 524.8L400.8 524.4L401.6 524L406 523.8L409.4 522.8L410.2 520.8L409.2 518.8L406.8 516.8L401.4 515L400.6 514.2L399.8 512.4L398 509.8L396 509.2L393.8 509.4L392.4 510.2Z" fill="#9a9a9a" stroke="#000" stroke-width="0.45" stroke-linejoin="round"/>
<path d="M391.4 511.8L391 513.2L391 516.4L390.4 518.8L390.4 520.8L391.4 523.2L392.4 524.2L395 525L396.4 525L398.6 524L401.4 523.2L405.6 523L408.8 522L409.2 520.8L408.4 519.2L406.4 517.6L401 515.8L400.2 515L398.6 511.4L397.8 510.4L396.4 509.8L394 509.8L392.6 510.6Z" fill="#dcdcdc" stroke="#222" stroke-width="0.4" stroke-linejoin="round"/>
<path d="M394.2 510.2L392.8 511L391.6 512.6L391.4 517.6L390.8 519.8L391 521.2L392 523.4L393.8 524.4L396.2 524.6L399 523.2L400.6 522.8L400.8 519.6L400.2 517.8L400.2 516.2L399.4 515L398 511.4L397.2 510.6L396.2 510.2Z" fill="#8a8a8a" stroke="#000" stroke-width="0.45" stroke-linejoin="round"/>
<path d="M394.6 510.6L392.6 511.8L392 513L392 517.6L391.4 519.2L391.4 520.8L392.2 522.8L392.8 523.4L394.6 524.2L396 524.2L397.8 523.4L398.8 522.6L399 520L398 517.6L398 516.2L398.6 514.2L398.2 512.8L397.2 511.2L395.8 510.6Z" fill="#cccccc" stroke="#222" stroke-width="0.4" stroke-linejoin="round"/>
<path d="M394.8 511L393.8 511.4L392.6 512.6L392.4 513.2L392.4 514.8L393.2 516.2L393.2 517.4L392.2 519L391.8 520.8L392.6 522.8L394.6 523.8L396 523.8L397.8 522.8L398.2 521.8L398.2 520.2L396.8 517.4L396.8 516.2L397.6 514.8L397.8 513L397 511.6L395.6 511Z" fill="#707070" stroke="#000" stroke-width="0.45" stroke-linejoin="round"/>
<path d="M394.8 517.4L393 519L392.4 520.4L392.4 521.4L393.2 522.8L394.4 523.4L396 523.4L397.2 522.6L397.6 521.6L397.6 520.4L397 519L395.6 517.6Z" fill="#bcbcbc" stroke="#222" stroke-width="0.4" stroke-linejoin="round"/>
<path d="M394.2 511.6L393.4 512.2L393 513L393 514.2L394 515.8L394.6 516.2L395.4 516.2L396.6 515L397 514.2L397 513L396.2 511.8Z" fill="#bcbcbc" stroke="#222" stroke-width="0.4" stroke-linejoin="round"/>
<path d="M394.4 518.6L393.4 519.4L393 520.2L393.2 522.2L394.4 523L396 523L396.8 522.2L397 520.2L396 518.8Z" fill="#4a4a4a" stroke="#000" stroke-width="0.4" stroke-linejoin="round"/>
<path d="M394.8 512.2L393.8 513L393.8 514.2L394.6 515L395.4 515L396.2 514.2L396.2 513L395.6 512.4Z" fill="#4a4a4a" stroke="#000" stroke-width="0.4" stroke-linejoin="round"/>
<path d="M394.8 519.2L393.6 520.2L393.6 521.6L394.2 522.4L395.4 522.6L396.4 521.6L396.4 520.2L395.6 519.4Z" fill="#9a9a9a" stroke="#222" stroke-width="0.4" stroke-linejoin="round"/>
<path d="M394.6 520L394 521.2L394.6 522L395.4 522L396 520.8L395.4 520Z" fill="#111" stroke="#000" stroke-width="0.35" stroke-linejoin="round"/>
<path d="M467.6 506L466 510.8L465.6 517.8L465 522L462.4 524.6L465 525.8L467.6 527.6L472.8 528.2L477.4 527.6L481.6 526.6L487 526L490 524L489.6 521.6L490 518L488.6 515.8L483.4 515.6L480.2 515L479 512.6L477.6 511L476.8 508.4L474.8 504.8L473.8 504.2L471.6 503.4Z" fill="#b8b8b8" stroke="#000" stroke-width="0.85" stroke-linejoin="round"/>
<path d="M468.2 506.4L466.6 511.2L466.6 515.4L465.6 522.4L463.8 524.4L468 527L472.6 527.6L475.6 527.2L476.2 526.8L477.2 526.8L481.4 525.8L486.8 525.2L489.2 523.6L488.8 521.8L489.2 518.2L488.2 516.6L483.2 516.4L479.6 515.6L478.4 513.2L477 511.6L476.2 508.8L474.2 505.2L472.6 504.4L471.4 504.2Z" fill="#ececec" stroke="#222" stroke-width="0.4" stroke-linejoin="round"/>
<path d="M468.6 506.8L467.2 511.4L467.2 515.8L466.2 522.2L465 524.2L468.4 526.6L472.4 527.2L481.6 525L486 524.6L488.2 523.2L488 520.4L488.4 518.4L487.8 517.4L483.4 517.2L479.4 516.4L478.4 515.4L477.6 513.4L476.6 512.2L475.6 509L474.4 506.6L473.4 505.4L471.6 504.8Z" fill="#9a9a9a" stroke="#000" stroke-width="0.45" stroke-linejoin="round"/>
<path d="M469 507.2L467.8 511.2L467.8 516.8L467 519.8L466.6 523.2L466.2 523.8L467.6 525.4L469 526.2L470.6 526.6L472.8 526.6L479.2 524.6L485.6 523.8L487.4 522.8L487.2 522L487.4 518.6L487.2 518.2L480.4 517.6L479 517.2L477.6 515.8L477 514L475.6 512L474.6 508.2L473.2 506L471.4 505.6Z" fill="#dcdcdc" stroke="#222" stroke-width="0.4" stroke-linejoin="round"/>
<path d="M471.6 506.2L469.6 507.4L468.4 510.6L468.2 512.6L468.4 517.2L467.4 520.4L467 524L468.2 525.2L469.4 525.8L472.4 526.2L477.2 524.4L477.6 523L477.6 521L477 519L475.8 516.8L476 514L475.2 512.6L474.4 509L473.4 507.2L472.6 506.4Z" fill="#8a8a8a" stroke="#000" stroke-width="0.45" stroke-linejoin="round"/>
<path d="M471.8 506.8L470.4 507.4L469.8 508L468.8 511L468.8 514.8L469.4 516.4L469.4 517.2L468 520L467.6 523.8L469.2 525.2L472 525.8L474.8 524.8L475.6 523.2L475.6 520.8L473.6 517.2L474.6 512.6L474.2 510L473 507.6Z" fill="#cccccc" stroke="#222" stroke-width="0.4" stroke-linejoin="round"/>
<path d="M471.2 507.8L470.4 508.2L469.8 509L469.2 511L469.4 514L471 517.2L468.4 520.4L468.2 523L469.4 524.8L470.6 525.2L472.6 525.2L473.6 524.8L474.2 524.2L474.8 523L474.8 521L474 519.4L472 517.2L473.4 514.6L473.8 513.2L473.6 510L472.6 508.2Z" fill="#707070" stroke="#000" stroke-width="0.45" stroke-linejoin="round"/>
<path d="M471 518.8L469.4 520L468.8 521.2L468.8 522.6L469.2 523.6L470 524.4L470.8 524.8L472.2 524.8L473.8 523.6L474.2 522.6L474.2 521.2L473.6 520L472.8 519.2L472 518.8Z" fill="#bcbcbc" stroke="#222" stroke-width="0.4" stroke-linejoin="round"/>
<path d="M471.2 508.8L470.6 509.2L470 510.2L469.8 513L470.4 514.6L471 515.2L472 515.2L473 513.8L473.2 511L472.4 509.2L471.8 508.8Z" fill="#bcbcbc" stroke="#222" stroke-width="0.4" stroke-linejoin="round"/>
<path d="M471 519.6L470.2 520L469.6 520.8L469.4 522.6L470.4 524L472 524.2L473.2 523.4L473.6 522.6L473.6 521.2L472.8 520L472 519.6Z" fill="#4a4a4a" stroke="#000" stroke-width="0.4" stroke-linejoin="round"/>
<path d="M471.4 509.8L470.8 510.2L470.4 511L470.4 513L470.8 513.8L471.6 514.2L472.2 513.8L472.6 513L472.6 511L472.2 510.2Z" fill="#4a4a4a" stroke="#000" stroke-width="0.4" stroke-linejoin="round"/>
<path d="M471.4 520.2L470.2 521L470 522.6L470.6 523.4L472 523.6L473 522.6L473 521.4L472.2 520.4Z" fill="#9a9a9a" stroke="#222" stroke-width="0.4" stroke-linejoin="round"/>
<path d="M471.4 511.4L471.2 512.4L471.6 512.6L471.8 511.6Z" fill="#9a9a9a" stroke="#222" stroke-width="0.4" stroke-linejoin="round"/>
<path d="M471.4 520.8L470.6 521.4L470.6 522.6L471.2 523L471.8 523L472.4 522.6L472.4 521.4Z" fill="#111" stroke="#000" stroke-width="0.35" stroke-linejoin="round"/>
<path d="M476.6 66.8L478.6 68.6L479.6 72.6L477 71.5Z" fill="#000"/>
<path d="M476.2 82.6L478.9 83.2L477.8 86.2L476 85.6Z" fill="#000"/>
<path d="M336.6 121.6L339.2 122.2L338.6 124.8L337 124.6Z" fill="#000"/>
<path d="M392.3 129.5L394.4 126.3L396.3 125.6L395.2 128.4Z" fill="#000"/>
<path d="M476.2 130.5L478.4 133.5L479.9 137.3L480.3 140.4L482.2 144.2L483.2 146.2L480.5 147.7L476.8 149.3Z" fill="#ececec" stroke="#000" stroke-width="1" stroke-linejoin="round"/>
<path d="M476.2 130.2L478.5 133.4L479.6 137.2L479.4 140.4L477.6 141.6L476.4 140Z" fill="#000"/>
<path d="M391.4 247.6L393.6 250.6L396 253.6L398 256.6L400 259.4L402.3 261L403.9 262.6L403.4 265.6" fill="none" stroke="#000" stroke-width="1.05" stroke-linejoin="round"/>
<path d="M481.2 271.2L485.9 273.3L481.6 275.6Z" fill="#000"/>
<path d="M398.3 320.6C400.8 321 402.4 322.6 402.5 324.6C402.8 326.8 405.5 327.8 405.4 330C404.6 332.2 401.2 332.6 398.3 333Z" fill="#f2f2f2" stroke="#000" stroke-width="1"/>
<path d="M476 326.2L478.5 326.6L482 328L484.5 330.5L484.3 333.5L481.5 335L477 336" fill="none" stroke="#000" stroke-width="0.9" stroke-linejoin="round"/>
<ellipse cx="348.4" cy="445.3" rx="1.1" ry="1.2" fill="#eee" stroke="#000" stroke-width="0.7"/>
<path d="M349.2 446.3L350.6 448.6" stroke="#000" stroke-width="0.9"/>
<path d="M394 449.9L395.6 451.6L397.2 453.5L399.2 454.6L401 455.6L403 454.3L405 456.5L408 458.5L411 460.4L412.5 461.6" fill="none" stroke="#000" stroke-width="1" stroke-linejoin="round"/>
<path d="M400.4 511.4L402.2 513.3L405 514.3L408 515.5L410.5 518L411.9 521" fill="none" stroke="#000" stroke-width="1" stroke-linejoin="round"/>
<path d="M388 515.2L389.8 516L388.9 517.2Z M387.8 520.2L389.9 521.2L388.5 522.6Z" fill="#000"/>
<path d="M462.2 524.6L465.2 522.6L465.6 525.9Z" fill="#000"/>
<path d="M476.8 511L479.6 511.6L480.3 514.4L477.8 514Z" fill="#000"/>
<text x="318.3" y="94.5" font-size="10.6" text-anchor="start" font-weight="normal" fill="#000" >36.8</text>
<text x="402.5" y="65.1" font-size="10.6" text-anchor="start" font-weight="normal" fill="#000" >0</text>
<text x="477.3" y="68.9" font-size="10.6" text-anchor="start" font-weight="normal" fill="#000" >1.20</text>
<text x="318.5" y="153.2" font-size="10.6" text-anchor="start" font-weight="normal" fill="#000" >48.6</text>
<text x="402" y="124.8" font-size="10.6" text-anchor="start" font-weight="normal" fill="#000" >1.2</text>
<text x="478.8" y="127.5" font-size="10.6" text-anchor="start" font-weight="normal" fill="#000" >2.70</text>
<text x="318.9" y="280.7" font-size="10.6" text-anchor="start" font-weight="normal" fill="#000" >40.4</text>
<text x="396.8" y="250.5" font-size="10.6" text-anchor="start" font-weight="normal" fill="#000" >5.67</text>
<text x="475.6" y="251.5" font-size="10.6" text-anchor="start" font-weight="normal" fill="#000" >5.60</text>
<text x="317" y="341.9" font-size="10.6" text-anchor="start" font-weight="normal" fill="#000" >60.3</text>
<text x="397.1" y="309.6" font-size="10.6" text-anchor="start" font-weight="normal" fill="#000" >5.84</text>
<text x="477.5" y="310.4" font-size="10.6" text-anchor="start" font-weight="normal" fill="#000" >5.12</text>
<text x="315.3" y="472.8" font-size="10.6" text-anchor="start" font-weight="normal" fill="#000" >52.1</text>
<text x="399" y="443.1" font-size="10.6" text-anchor="start" font-weight="normal" fill="#000" >8.51</text>
<text x="479.8" y="444.6" font-size="10.6" text-anchor="start" font-weight="normal" fill="#000" >8.24</text>
<text x="316.8" y="535.5" font-size="10.6" text-anchor="start" font-weight="normal" fill="#000" >77.4</text>
<text x="398.3" y="507.4" font-size="10.6" text-anchor="start" font-weight="normal" fill="#000" >11.5</text>
<text x="478.3" y="506.9" font-size="10.6" text-anchor="start" font-weight="normal" fill="#000" >10.3</text>
<rect x="321.2" y="66.5" width="16.9" height="16.4" fill="none" stroke="#111" stroke-width="1.15"/>
<rect x="396.3" y="68" width="19.2" height="18.4" fill="none" stroke="#111" stroke-width="1.15"/>
<rect x="475.7" y="73.6" width="19.5" height="17.3" fill="none" stroke="#111" stroke-width="1.15"/>
<rect x="320.5" y="126.2" width="16.5" height="16.9" fill="none" stroke="#111" stroke-width="1.15"/>
<rect x="399" y="127.5" width="20" height="19.6" fill="none" stroke="#111" stroke-width="1.15"/>
<rect x="477.2" y="133.7" width="18.8" height="18" fill="none" stroke="#111" stroke-width="1.15"/>
<rect x="321.2" y="253.8" width="16.9" height="17.4" fill="none" stroke="#111" stroke-width="1.15"/>
<rect x="395.8" y="253.5" width="18.7" height="18.4" fill="none" stroke="#111" stroke-width="1.15"/>
<rect x="319.2" y="316.1" width="17.4" height="16.6" fill="none" stroke="#111" stroke-width="1.15"/>
<rect x="398.5" y="316.5" width="18" height="18" fill="none" stroke="#111" stroke-width="1.15"/>
<rect x="476.2" y="319.2" width="18.1" height="18.1" fill="none" stroke="#111" stroke-width="1.15"/>
<rect x="317.4" y="446.9" width="17.2" height="16.2" fill="none" stroke="#111" stroke-width="1.15"/>
<rect x="400.4" y="449.2" width="18.4" height="18.5" fill="none" stroke="#111" stroke-width="1.15"/>
<rect x="481.5" y="449.2" width="18.5" height="18.2" fill="none" stroke="#111" stroke-width="1.15"/>
<rect x="317.6" y="508" width="16.9" height="17.5" fill="none" stroke="#111" stroke-width="1.15"/>
<rect x="400.4" y="510.5" width="18.8" height="18" fill="none" stroke="#111" stroke-width="1.15"/>
<rect x="480" y="510.5" width="18.9" height="18.4" fill="none" stroke="#111" stroke-width="1.15"/>
</svg>
</body></html>
